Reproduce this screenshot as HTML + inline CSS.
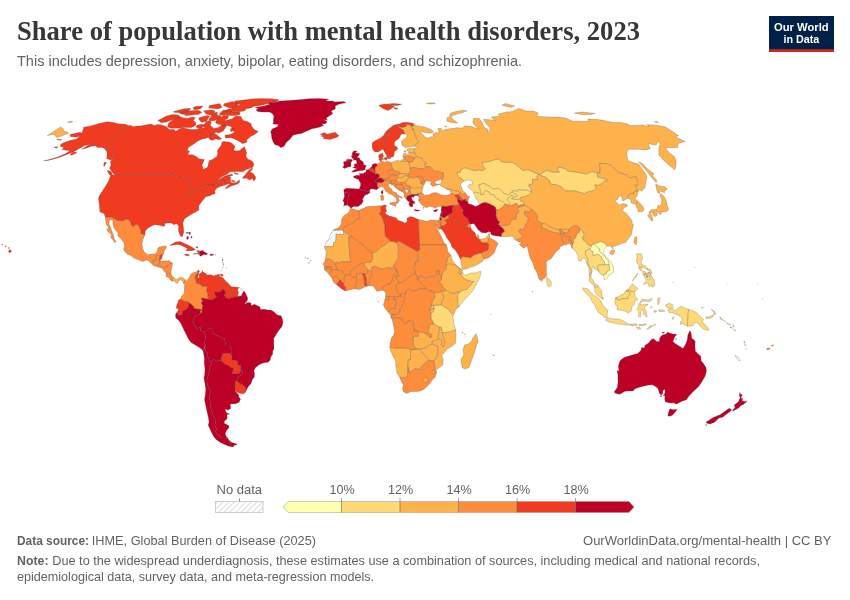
<!DOCTYPE html>
<html lang="en">
<head>
<meta charset="utf-8">
<title>Share of population with mental health disorders, 2023</title>
<style>
html,body{margin:0;padding:0;background:#fff;}
body{width:850px;height:600px;overflow:hidden;position:relative;font-family:"Liberation Sans",sans-serif;}
svg{position:absolute;left:0;top:0;display:block;}
.title{font-family:"Liberation Serif",serif;font-weight:bold;font-size:28px;fill:#373737;}
.sub{font-family:"Liberation Sans",sans-serif;font-size:15px;fill:#626262;}
.foot{font-family:"Liberation Sans",sans-serif;font-size:13px;fill:#626262;}
.leg{font-family:"Liberation Sans",sans-serif;font-size:12.6px;fill:#626262;}
.logo{font-family:"Liberation Sans",sans-serif;font-weight:bold;font-size:11.6px;fill:#fff;}
.b{font-weight:bold;}
.c g{stroke:#444;}
.c path{stroke-opacity:.55;stroke-width:.45;stroke-linejoin:round;}
</style>
</head>
<body>
<svg width="850" height="600" viewBox="0 0 850 600">
<defs>
<pattern id="nd" width="3" height="3" patternUnits="userSpaceOnUse" patternTransform="rotate(45)"><rect width="3" height="3" fill="#fff"/><rect width=".9" height="3" fill="#e2e2e2"/></pattern>
<pattern id="hatch" width="4" height="4" patternUnits="userSpaceOnUse" patternTransform="rotate(45)">
<rect width="4" height="4" fill="#fff"/><rect width="1.2" height="4" fill="#dedede"/>
</pattern>
</defs>
<rect width="850" height="600" fill="#fff"/>
<text class="title" x="17" y="39.6" textLength="623" lengthAdjust="spacingAndGlyphs">Share of population with mental health disorders, 2023</text>
<text class="sub" x="17" y="65.8" textLength="505" lengthAdjust="spacingAndGlyphs">This includes depression, anxiety, bipolar, eating disorders, and schizophrenia.</text>
<!-- logo -->
<rect x="769" y="16" width="65" height="36" fill="#002147"/>
<rect x="769" y="49.2" width="65" height="2.8" fill="#ce261e"/>
<text class="logo" x="801.3" y="30.6" text-anchor="middle" textLength="54.7" lengthAdjust="spacingAndGlyphs">Our World</text>
<text class="logo" x="801.4" y="42.6" text-anchor="middle" textLength="35.9" lengthAdjust="spacingAndGlyphs">in Data</text>
<!-- map -->
<g class="c">
<g fill="url(#nd)" stroke="#999">
<path d="M238.5 287.2L241 288.3L243.7 291.2L241.3 296.1L237.2 296.4L238.4 293L237.5 289.9Z"/>
<path d="M333.5 230.1L343.6 230.1L343.6 234.4L336.1 234.4L335.9 241L333.7 242.3L333.6 246.6L324.6 246.6L326.2 242.3L329.3 238.3L330.5 233.9Z"/>
<path d="M735 355L737.9 357L740.3 360.7L739 360.7L736.1 357.8Z"/>
</g>
<g fill="#ffffb2">
<path d="M589.9 249.1L591.7 245.7L593 243.8L593.9 243.8L595.7 245.7L598.3 247.8L600.1 249.1L599.3 251.2L602.2 253.5L606.1 258.2L608.5 260.8L609 263.2L609 264.5L605.6 264.8L604.4 264.8L604.3 261.6L602.1 259.5L601.5 256.9L598 254.3L595.3 254.8L593 255.9L592.8 251.4L591.1 251.2Z"/>
<path d="M593.9 243.8L596.7 243L600.5 241.5L603.8 242.5L607.3 246.1L604.8 248.3L603.2 252.7L605.5 256.1L608.5 259.3L611.4 261.9L613.4 267.4L613.7 271.8L610 274.9L608.2 275.2L607.9 277.6L605.1 279.9L604.2 279.7L604.2 276.3L603 275.2L606.2 273.6L606.8 271.8L609.6 270.2L609 264.5L609 263.2L608.5 260.8L606.1 258.2L602.2 253.5L599.3 251.2L600.1 249.1L598.3 247.8L595.7 245.7Z"/>
<path d="M650.4 325.9L655.4 324.1L656 324.6L650.9 327.2Z"/>
</g>
<g fill="#fed976">
<path d="M455.8 329.9L453.5 323.3L454 320.2L452.7 318.1L453.4 314.7L450 311.6L449.8 310.2L441.5 305L433.4 305L434.1 308.4L433.4 311.3L430.8 313.9L431 318.1L433.7 323.8L438.7 327L441.2 327.2L442.4 332.5L443.3 332.7L450.3 331.9Z"/>
<path d="M462.2 272.3L465.3 275.2L470.9 273.1L475.5 272.9L480.3 271L480.7 271.5L480.4 274.9L479.8 277.6L477.7 281.5L473.7 289.3L469.2 295.1L464.6 299.3L461.2 303.7L459.1 306.8L457.7 304.8L457.7 302.4L457.6 295.1L459.7 292.1L459.9 291.7L463.3 289.9L466.8 289.3L473.5 281.5L471.2 281.5L466.6 279.9L463.1 277.8L461.1 274.7L461.5 273.7Z"/>
<path d="M463.6 181.3L461.1 178L459.4 177.8L457.8 176.2L457.2 172.2L460.3 172.4L460.2 170.7L463.6 167.9L466.5 167.9L471.5 169.7L474.2 170.7L479 169.7L482 170.7L485.3 168.9L482.8 165.9L482.3 162.4L489.5 161.4L494.5 159.7L499.4 158.9L501.2 161.7L505.9 162.2L511.8 162.2L515.3 163.9L522.4 170.2L528.2 169.7L533.8 172.2L539.1 174.5L536.9 176.2L537.7 179.6L532.5 179.3L532.8 183.7L528.5 185.2L531.3 189.3L531.7 192.2L527.5 190.3L521.5 190.1L518.2 189.6L517.4 191.4L512.3 190.6L512.1 191.9L511.5 192.7L508.9 194.5L506.6 194.7L503.1 192.9L501.2 190.1L498.4 188.3L492.5 188.8L489.7 186.5L483.9 183.4L478.9 184.9L481.4 194.5L480.1 194.5L478.4 192.7L475.5 192.2L473.7 193.2L473.3 191.4L470.7 189.6L467.5 186.5L468.9 186.2L469.1 184.4L472.7 184.2L471.5 180.3L467.3 180.1Z"/>
<path d="M481.4 194.5L478.9 184.9L483.9 183.4L489.7 186.5L492.5 188.8L498.4 188.3L501.2 190.1L503.1 192.9L506.6 194.7L508.9 194.5L511.5 192.7L512.8 192.2L515 194L517.7 195.8L515.5 197.3L513.1 197.3L512.1 195.3L508.9 197.3L506.8 199.2L509.9 202.5L509.2 205.1L506.3 204.6L503.8 202.3L499.9 200.6L495.8 197.9L494 195L490 194.2L489.2 192.2L485.9 190.6L483.8 192.2L483.5 194.5Z"/>
<path d="M479.2 204.9L479.4 204.8L482.3 203.1L485.8 202.5L490.7 204.4L495.2 207L495.9 209.3L498.5 210.1L499.9 208.5L502.7 207.5L504.4 204.6L506.3 204.6L503.8 202.3L499.9 200.6L495.8 197.9L494 195L490 194.2L489.2 192.2L485.9 190.6L483.8 192.2L483.5 194.5L481.4 194.5L480.1 194.5L478.4 192.7L475.5 192.2L473.7 193.2L474.9 195.5L475.9 198.4L477.7 199.7Z"/>
<path d="M531.7 192.2L527.5 190.3L521.5 190.1L518.2 189.6L517.4 191.4L512.3 190.6L512.1 191.9L512.8 192.2L515 194L517.7 195.8L515.5 197.3L513.1 197.3L511.2 198.9L514.6 199.4L520.3 199.4L520.4 197.6L524.4 196.8L528.2 195.3Z"/>
<path d="M506.8 199.2L508.9 197.3L512.1 195.3L513.1 197.3L511.2 198.9L514.6 199.4L520.3 199.4L521.2 201.5L523.6 201.8L524.3 204.9L521 204.6L517.8 206.5L516.7 203.3L514.1 204.1L512.7 205.1L509.8 205.7L509.2 205.1L509.9 202.5Z"/>
<path d="M546.7 277L549.1 279.1L551.4 282.8L551.1 285.7L548.8 286.8L547.4 285.9L546.8 282.8L546.9 279.9Z"/>
<path d="M572.1 248.3L572.3 244.9L573.7 242.3L573.1 239.7L575.7 237.8L576.4 234.4L579.9 231.5L579.8 228.4L582 230L584.3 234.7L582.4 237.3L583 239.7L586.1 241.7L587.7 244.6L591.7 245.7L589.9 249.1L588.6 249.6L585.7 250.9L585.2 254L588.2 259.5L588.2 261.1L587.5 262.7L590.3 267.9L591.6 271.5L590.1 275.2L589.7 276.3L589.1 272.3L589 268.4L586.7 263.7L585.7 259.5L583.6 257.7L580.9 261.1L578.3 260.6L578.2 256.4L576.3 252.2L574.2 250.1Z"/>
<path d="M589.7 276.3L590.1 275.2L591.6 271.5L590.3 267.9L587.5 262.7L588.2 261.1L588.2 259.5L585.2 254L585.7 250.9L588.6 249.6L589.9 249.1L591.1 251.2L592.8 251.4L593 255.9L595.3 254.8L598 254.3L601.5 256.9L602.1 259.5L604.3 261.6L604.4 264.8L602.8 264.8L598.7 265L597.8 266.8L597.7 268.4L599.2 271.8L597.4 270.2L594.4 269.2L594.1 267.1L592.1 267.4L592.2 271L591 275.2L591.2 278.1L593.2 280.2L594.3 283.6L597.4 285.1L598.3 286.2L596.1 287.5L593.9 285.4L592.7 284.4L589.3 281.5L589.2 278.9Z"/>
<path d="M599.2 271.8L597.7 268.4L597.8 266.8L598.7 265L602.8 264.8L604.4 264.8L605.6 264.8L609 264.5L609.6 270.2L606.8 271.8L606.2 273.6L603 275.2L601 274.7L599.8 273.1Z"/>
<path d="M593.9 285.4L596.1 287.5L598.3 286.2L601.5 290.6L601.7 295.1L603.6 298.7L601.8 298.7L596.8 294.8L595.1 291.9L594.3 287.8ZM616 297.2L616.3 297.4L619.9 295.9L620.1 295.3L623.8 294L625.7 290.6L626.2 290.4L627.2 291.7L628.8 291.2L628.9 289.3L629.3 288L631.9 284.4L633 284.1L634.3 285.9L637.9 288.3L635.5 291.2L634.3 291.5L630.4 291.2L629.6 294.6L628 296.6L627.6 298.7L625.1 298.7L622.1 298.7L620.5 299.8L618.2 300L616.1 299Z"/>
<path d="M582.7 287.8L587.8 288.8L589.8 291.4L593.8 295.3L596.2 296.6L600.9 300.8L602.7 305L604.3 307.1L607.7 310.2L607.3 313.6L606.9 317.6L604.2 317.6L603.5 315.7L599 312.9L596.2 308.9L594.6 304.8L591.9 301.6L590.9 298.2L587.3 294.6L583.3 290.1ZM605.4 320.2L607.4 317.8L612.6 318.9L618.6 319.1L622.4 320.4L626.7 322.8L626.3 325.1L618.5 324.1L612.9 322.8L608.1 321.7ZM616.1 299L618.2 300L620.5 299.8L622.1 298.7L625.1 298.7L627.6 298.7L628 296.6L629.6 294.6L630.4 291.2L634.3 291.5L635.1 294.6L635.4 296.4L637.8 299.8L635.3 300.3L634.4 302.4L634.3 304.5L632 306.3L631.2 310.2L630.7 311.8L627.4 313.1L627.2 311.6L623.8 310.8L620.8 310.2L617.4 310L617 306.6L615 303.7L614.7 301.4L616 297.2ZM642.2 299L648.2 300L652.1 298.2L650.3 301.4L643.6 301.1L640.6 301.9L640.3 304.8L643.1 304.8L647.7 304L647.7 305L644 307.1L646.2 311.3L646.8 313.4L645.6 314.9L643.3 314.4L643.4 311.6L642.1 309.5L640.8 311.6L640.6 316.8L638.5 316.8L638.8 311.6L637.2 309.5L638.5 305.8L639.7 302.4ZM688.5 309.2L687.4 326.2L683 323.6L680.7 324.4L680.2 321.7L682.6 320.2L681.2 316.8L675.6 313.9L671 312.3L669.4 312.9L667.7 310L671.2 308.4L668.2 308.2L665.5 306.1L666 304.5L669 303.4L672.4 304.5L673 308.9L675 311L677.7 308.4L681.2 306.3L685.1 308.2ZM627.8 323.6L629.3 324.1L628.1 325.4L626.8 324.4ZM630 324.1L631.6 324.1L631.1 325.7L629.9 325.4ZM631.9 324.4L634.7 323.6L637.2 324.1L636.6 325.4L632.2 325.9ZM639 324.4L642.7 324.6L646.2 323.8L645.6 324.9L641.4 325.7L638.9 325.4ZM636.7 327L639.5 327L640.7 328.8L638.8 329.3L636.6 328ZM646.8 329.3L649.4 326.5L650.4 325.9L650.9 327.2L648.5 329.1ZM657.5 303.2L658.3 297.7L660.2 298.5L658.6 301.1L659.8 301.6L658.4 304.5ZM658.4 310L661.9 309.7L664.9 311L663 311.8L658.9 311.3ZM653.8 310.8L656.6 310.8L656 312.3L654 312.1ZM672.4 317.6L673.6 317L673.2 319.7L672.3 318.9ZM650 306.8L652.3 307.1L650.4 307.6ZM645.8 315.5L647.2 314.9L646.8 316.8L645.9 317Z"/>
<path d="M636.7 253.7L637.3 258.6L636.3 259.7L637.1 263.4L638.6 264.4L639.2 266.3L641.9 267.1L644.8 268.2L647.9 270L648.1 269.9L647.5 268.2L644.7 265.5L641.9 265L641 261.1L642.6 258L641.1 253.7ZM643.8 284.6L646.4 283.1L648.4 283.4L649.1 286.7L651.5 285.1L652.1 287.2L654.8 285.6L654.2 280.1L651.6 276.3L649.9 278.6L646.8 279.4L643.5 284.4ZM632.6 281L635.8 277.5L637.9 273L637.7 273L637.5 272.9L637.3 272.8L637 274.1L632.2 280.7ZM647.5 269.5L649.4 271.6L649.9 273.4L652.1 273.4L650.6 269.4L647.6 269.4ZM648.1 272.2L649.7 276L651.2 276L650.3 272.9L648.2 272.2ZM643.8 274L644.6 277.1L646 279.2L646.1 279.2L647 276.3L646.2 273.2ZM642.6 271.1L643.1 275.3L645.4 274.6L646 272.1ZM646.3 274.8L647 277.9L647.4 277.9L648.2 272.6L647.9 272.5ZM638.4 267.1L640.1 270.5L642.1 270.3L641.3 267.1ZM647.5 276.1L649.3 277.9L649.4 277.8L649.5 275.6Z"/>
<path d="M540 174.2L542.7 172.7L546.4 170.2L553.4 172.2L559.4 172.2L557.6 169.7L558 166.9L565.4 168.6L567.3 170.9L577.5 172.2L586.6 174L591.6 171.4L597.3 172.7L597.5 177L602 178L607.7 179.8L608.2 180.6L603.9 181.3L601.8 183.7L598.4 185.4L594.6 184.9L596.2 188.3L593.8 190.9L588.9 191.6L584.6 193.7L574.5 190.9L565.2 190.9L561.1 186.7L556.5 184.9L550.8 184.2L549.2 180.1L546 177.5L541.1 175.7Z"/>
<path d="M688.5 309.2L691.9 310.5L696.4 312.6L699.3 315.5L701.9 318.1L703.6 319.7L702.1 321.7L704.2 323.6L706.5 326.2L708.9 329.3L708.3 330.4L703.2 329.1L700.1 325.7L696.5 322.5L694.1 323.3L692.7 325.9L687.4 326.2ZM705.4 317L708.9 316.8L712.4 315.5L714.4 313.4L713.5 316.3L709.9 318.6L706.4 318.6ZM711.1 309.2L714.5 311.3L715.9 314.2L715 314.2L712.7 310.8ZM719.7 316.8L722.1 318.6L722.2 320.2L720.5 319.1ZM701.5 307.6L703.3 307.6L702.8 308.2Z"/>
<path d="M723.6 319.9L725.6 321.5L724.7 321.5ZM726.3 323.3L730.8 324.4L729.4 324.6ZM730.1 326.7L732.7 328L730.7 328ZM732.9 324.4L734.2 327.2L733.3 326.7ZM733.7 329.3L735.9 330.6L734.3 330.4Z"/>
<path d="M744.1 340.8L745 342.9L744.1 343.2ZM744.8 344.2L745.8 345.5L744.9 345.8ZM746.1 348.4L746.6 348.9L745.9 349.2Z"/>
</g>
<g fill="#feb24c">
<path d="M172.1 281.2L173 277.3L176.6 279.4L180.2 277.3L183.6 278.1L185.1 279.7L183.6 283.3L182.3 280.7L179.4 279.7L177.8 283.3L175.3 282.3L174.2 280.7Z"/>
<path d="M404.9 133.9L407.3 135.5L406.3 137.4L403.2 139.7L401.3 141.6L402.1 145.1L404.4 147L405.5 147.7L409 147L414 146.3L416.7 144.2L419.1 141.3L416.4 138.8L416.1 136.9L414.8 134.6L414.6 131.7L412.4 129.6L414.1 129.6L411.3 127.8L411.5 126.6L409.2 124.3L406.2 124.8L406.1 126.3L402.6 127.4L398.2 126.6L397.4 126.6L399.3 127.8L403.4 130.3L404 132.8Z"/>
<path d="M390.6 162.4L394 161.4L397.8 160.2L400.8 161.2L407.2 161.2L408.7 162.4L410 165.4L409.6 166.9L409.8 168.4L411 170.2L408.8 174.5L408.4 174.5L405.3 173.7L402.9 174.2L400.8 173.4L398.4 171.4L395.4 171.2L392.9 169.7L392 167.1L391.2 164.6Z"/>
<path d="M397.2 175.7L397.8 175.2L400.8 173.4L402.9 174.2L405.3 173.7L408.4 174.5L407.8 176.2L404.5 176L401.2 177.8L397.9 177.3Z"/>
<path d="M406.7 149.4L408.4 148.7L411.1 148.5L414.9 148.7L414.1 150.4L414.8 152.8L411.9 152.8L410 152.3L408.7 152.6L408.9 151.4L406.9 150.6ZM404.1 150.9L406 150.9L405.8 152.1L404.1 151.8Z"/>
<path d="M402.9 155.3L403.8 153.5L405.6 153.1L407 154.8L409 154.3L408.7 152.6L410 152.3L411.9 152.8L414.8 152.8L416.8 156.7L414 157.9L410.7 156.5L404.9 156.2L403.2 157Z"/>
<path d="M408.7 162.4L409.7 162.2L412.9 161.4L414 159.2L414 157.9L416.8 156.7L422.3 158.2L422.5 160.2L426.8 163.4L424.5 164.4L425.8 166.9L423.7 168.6L417.5 168.4L412.4 167.4L409.8 168.4L409.6 166.9L410 165.4Z"/>
<path d="M409.5 177.3L413.7 178L416.9 176.5L417.7 177.3L420.5 180.3L421.2 183.7L424.2 184.2L422.7 188.3L419.2 187.3L416 188.5L410.7 188L409.7 186.2L407.3 185.4L404.7 182.1L406.5 181.3L408 178Z"/>
<path d="M409.7 186.2L410.7 188L416 188.5L419.2 187.3L422.7 188.3L422 192.7L418.7 193.5L416.3 194.5L411.4 194.5L410.1 191.9L410.1 189.6Z"/>
<path d="M396 180.2L396.7 179.8L397.9 177.3L401.2 177.8L404.5 176L407.8 176.2L409.5 177.3L408 178L406.5 181.3L404.7 182.1L401.7 182.6L399 182.5L396.4 181.1Z"/>
<path d="M414.4 125L418.2 125.9L423.5 126.7L431.1 129.4L433.6 131.7L432.3 133L428.9 133.2L422.5 132.1L419.8 131.7L424.1 135.8L424.6 137.1L428.7 138.3L430 136.9L434.4 136.7L432.7 134.2L435.6 132.6L439.2 133L437.9 128.5L440.9 128.3L442.9 131.2L444.8 129.6L452.7 128.3L454.5 128.5L455.9 127.8L462.8 128.1L464.2 126.1L470.1 126.1L474.5 127.8L479.1 128.5L474.9 125.6L472.9 122.4L473.5 118.3L479.2 118.5L482.2 122.4L483.9 126.7L488.5 130.1L487.6 132.8L490.1 131.2L489.7 127.8L485.2 122.4L483.7 119.2L488.2 119.8L493.4 120.2L495.5 120.9L491.3 117.1L499.6 116.2L498.3 114L505.7 112.2L512.4 111.4L515.3 110L518.5 108.6L522.1 109.4L525.6 111L533.2 111L538.2 113L536.5 116L542 116.7L550.4 117.1L558.3 117.1L565.2 118.1L573.2 121.3L578.1 121.3L583 121.3L587.9 121.3L588 119L598.5 119.6L607.5 121.3L612.6 122.6L620.5 122.4L627.9 124.1L629.8 125.4L638.5 125.6L642.2 124.8L649.3 126.7L646.8 124.5L656.1 125.2L665.6 127L678.8 135.8L676.3 136.5L675.5 137.1L685.2 141.6L678.4 143.2L677.5 147.5L669.5 147.7L665.1 148L669.4 152.8L674.5 156.7L675.9 160.2L676.1 164.1L675.7 167.1L674.9 169.7L670 165.9L663.1 159.7L658.7 154.8L658.8 151.4L659.1 146.8L660.2 143.9L658.2 141.6L656.2 145.1L648.1 143.7L650.2 148.7L646 149.9L637.8 149.2L628.5 149.2L626.7 153.1L627.6 160.2L632.7 162.6L638.7 163.9L641.6 168.4L644.6 172.2L646.9 176.5L646 181.1L645.1 187.5L642 190.9L638.9 189.8L637.8 191.9L637.3 190.1L634.9 185.4L638.1 184.7L636.1 176.5L629.7 178L626.7 175.2L618.9 172.7L610.4 165.1L604.1 163.4L599.2 163.9L600.2 167.6L599.9 173.4L597.3 172.7L591.6 171.4L586.6 174L577.5 172.2L567.3 170.9L565.4 168.6L558 166.9L557.6 169.7L559.4 172.2L553.4 172.2L546.4 170.2L542.7 172.7L540 174.2L539.1 174.5L533.8 172.2L528.2 169.7L522.4 170.2L515.3 163.9L511.8 162.2L505.9 162.2L501.2 161.7L499.4 158.9L494.5 159.7L489.5 161.4L482.3 162.4L482.8 165.9L485.3 168.9L482 170.7L479 169.7L474.2 170.7L471.5 169.7L466.5 167.9L463.6 167.9L460.2 170.7L460.3 172.4L457.2 172.2L457.8 176.2L459.4 177.8L461.1 178L463.6 181.3L461 183.4L460.4 185.4L461.4 187L462.5 190.1L465.4 193.1L463 194.7L460.8 192.9L457.2 190.9L454.9 191.1L451.9 189.6L446.6 189.1L441.9 186.5L439.4 184.8L439 184L440.6 183.7L441.5 182.1L441.5 180.6L443.3 179.3L441.1 179.6L443.7 177.3L443.4 173.2L438 171.4L434 171.2L430 166.4L425.8 166.9L424.5 164.4L426.8 163.4L422.5 160.2L422.3 158.2L416.8 156.7L414.8 152.8L414.1 150.4L414.9 148.7L414.8 148.2L418.4 147.7L415.3 146.3L414 146.3L416.7 144.2L419.1 141.3L416.4 138.8L416.1 136.9L414.8 134.6L414.6 131.7L412.4 129.6L414.1 129.6L411.3 127.8L411.5 126.6ZM400.8 161.2L401.6 159.7L403.8 158.9L406.8 159.7L407.2 161.2ZM446.7 120.9L447.4 117.5L451.3 116L452 118.5L457.6 123L451.8 122.8ZM449.4 115.4L451 113L456 111.4L462.7 110.2L466.9 110.8L463 112.6L457.1 114L453.4 115.6ZM501.9 105.2L505.3 103.5L514.8 106.1L510.6 107.4ZM574.4 113L582 112L595.2 113.4L590.7 114.4L581.6 114.6ZM654.6 121.7L656.4 121.3L658.5 122.6L656.6 122.6ZM638.4 161.4L642.9 164.1L647.1 168.4L654.1 174L652 175.2L656.8 180.3L656.2 182.4L652.4 178.5L648.6 173.4L643.1 167.1ZM444.3 126.3L446.8 126.3L446.3 127.2ZM426.3 103.5L430.2 102.8L435.3 103.1L434.4 103.8L429.5 104ZM60.4 127L63.1 128.5L64.2 131.2L67.7 132.3L68.5 133.2L65.4 134.6L58.4 137.1L57.2 137.4L55.3 136.2L55.5 134.8L51.5 134.6L48.7 135.3L47.2 135.8ZM69.6 121.3L72.5 121.5L72.3 122.2L67.5 122.6Z"/>
<path d="M324.6 246.6L333.6 246.6L333.7 242.3L335.9 241L336.1 234.4L343.6 234.4L343.6 231L352.1 237L348.4 237L349.4 248.8L350.2 259.3L350.9 259.8L350.4 261.9L341.8 261.9L338.1 262.9L336.3 261.9L335.1 263.7L332.2 260.3L329.9 259L325.8 259.3L325.3 260.3L325.9 255.3L326.2 251.4L324.7 248L324.4 248Z"/>
<path d="M390.1 241L396.8 242.3L399 249.1L398.2 250.1L398.3 258.2L393.9 264.8L394.1 266.6L391.6 268.1L387.1 267.6L383.6 268.9L379 268.4L375.6 266.3L372.2 267.1L371.3 271.8L369.4 270.2L368.5 271L368 269.5L365.1 267.1L363.7 263.4L366 262.4L371 262.1L372.6 258.5L372.5 252.5L376.2 251.7L380 248Z"/>
<path d="M389.9 347.5L394.9 347.9L405.1 347.9L411.7 349.5L416.3 348.4L420.4 348.4L418.8 349.5L416 349.5L410.8 350.2L410.5 359.9L408.2 359.9L408 367.2L407.6 376.7L403 378L401.7 377.4L399.7 377.2L397 373L395.7 365.1L395.7 361.2L393.4 356.8L390.7 351Z"/>
<path d="M408 367.2L408.2 359.9L410.5 359.9L410.8 350.2L416 349.5L418.8 349.5L420.4 348.9L422.5 353.4L425.8 356L429.2 360.4L426.2 362L423.9 364.1L421.2 367L420.2 369.6L414.7 368.5L412.3 371.2L409.5 372.7Z"/>
<path d="M420.4 348.9L425.9 347.6L428.7 345.5L432.5 343.2L432.4 344.2L438 346.1L438.2 348.2L437.6 351.6L437.9 354.2L436.3 358.1L433.7 361L429.2 360.4L425.8 356L422.5 353.4Z"/>
<path d="M413.4 336.4L418 336.4L417.9 330.9L419 332.2L421.1 331.7L425.4 333.3L429.4 337.4L431.3 337.4L431.4 334.3L428.2 333.3L428.8 327.2L429.5 324.4L433.7 323.8L438.7 327L439.5 330.6L437.9 338L439 339L432.1 341.6L432.5 343.2L428.7 345.5L425.9 347.6L420.4 348.9L416.3 348.4L413.2 344.8Z"/>
<path d="M438.7 327L441.2 327.2L442.4 332.5L442.6 335.1L444.9 340.8L444.7 344.2L443.2 347.1L441.3 344.8L441.9 340.3L439 339L437.9 338L439.5 330.6Z"/>
<path d="M455.8 329.9L450.3 331.9L443.3 332.7L442.4 332.5L442.6 335.1L444.9 340.8L444.7 344.2L443.2 347.1L441.3 344.8L441.9 340.3L439 339L432.1 341.6L432.5 343.2L432.4 344.2L438 346.1L438.2 348.2L437.6 351.6L437.9 354.2L436.3 358.1L433.7 361L434.8 366.5L434.8 370.1L434.8 372.5L436.6 372.6L436.1 370.1L438.2 368.3L442.7 365.1L443.2 360.4L441.9 355.2L444.8 352.1L447.2 348.9L452.4 345.8L455.8 342.9L455.9 340.3L455.9 335.1Z"/>
<path d="M476.1 333.8L477.5 337.7L478.2 342.7L476.7 344.2L475.8 348.2L473.7 354.7L470.9 362.5L468.9 367.5L465.1 369.1L462.3 367.8L461.3 363.3L460.9 359.4L463.7 354.7L463.1 349.5L464.6 345L468.7 343.7L471.6 341.1L472.9 338L474.9 335.1Z"/>
<path d="M453.4 314.7L450 311.6L449.8 310.2L441.5 305L441.5 301.9L442.7 299.5L443.8 297.4L441.4 291.4L445.8 290.4L448.1 290.9L450.7 293L454.2 293.2L457.6 291.9L459.7 292.1L457.6 295.1L457.7 302.4L457.7 304.8L459.1 306.8L455.8 309.5L454.4 312.9Z"/>
<path d="M433.4 305L441.5 305L441.5 301.9L442.7 299.5L443.8 297.4L441.4 291.4L439.1 292.5L434.5 292.7L434.1 293.2L435.3 296.6L432.1 301.1L431.3 306.1Z"/>
<path d="M446.3 264.8L449.7 263.4L452.2 264.2L456.4 265.5L460.2 269.7L459 272.3L459 273.6L461.5 273.7L461.1 274.7L463.1 277.8L466.6 279.9L471.2 281.5L473.5 281.5L466.8 289.3L463.3 289.9L459.9 291.7L459.7 292.1L457.6 291.9L454.2 293.2L450.7 293L448.1 290.9L445.8 290.4L443.7 288L441.3 284.1L439 281.5L441.5 280.2L441.4 277.6L441.8 274.7L443.3 271.5L445.8 269.2Z"/>
<path d="M450.9 255.3L452.5 260.6L454.5 263.2L458.1 267.1L461.8 269.2L460.2 269.7L456.4 265.5L452.2 264.2L449.7 263.4L446.3 264.8L446.5 263.2L447.3 257.7Z"/>
<path d="M460.2 269.7L461.8 269.2L462.6 271.3L461.5 272.1L462.2 272.3L461.5 273.7L459 273.6L459 272.3Z"/>
<path d="M460.7 259.5L461.3 258.7L461.9 256.6L466 256.9L468.7 257.3L470.2 258.1L474 254.8L481.2 252.7L484.1 258.9L482.3 261.6L475.2 265.8L471.8 266.8L466.2 269.1L462.7 269.3L462 267.6L461.1 263.7Z"/>
<path d="M479.1 238.9L481.7 242.5L487.6 243L488.6 239.1L489.7 237.3L489.6 235.5L488.6 234.4L485.6 238.3L482.3 239.1Z"/>
<path d="M477.2 237.7L479.1 238.1L478.7 234.9L477.8 234L476.9 235.7Z"/>
<path d="M446.6 189.1L451.9 189.6L454.9 191.1L457.2 190.9L460.8 192.9L458.1 194.5L455.1 195L453.4 194L450.6 194L450.8 192.7L449.8 190.6Z"/>
<path d="M501.4 236.5L501.5 233.6L504.5 231.3L503 228.4L498.1 224.4L501.8 225.5L505.2 225.5L510 224.2L509.8 221.6L512.9 219.5L515.7 219L516.4 216.1L516.1 213.8L518.1 213.2L518.9 210.9L517.4 208.3L518.2 207.2L522.9 206.2L524.6 205.1L527.1 206.5L532 209.6L528.7 211.9L524.3 211.7L524.6 214.5L526.8 216.6L528.9 217.9L527.4 221.1L527.9 221.6L525.8 224.2L525.1 226.6L523.4 229.5L520 229.2L518.6 231.3L521.9 235.2L522.9 237.8L518.3 238.9L516.7 240.4L515 239.9L513.6 237.6L512.3 236L507.9 236.5L503.4 236.5Z"/>
<path d="M541.3 227.1L542.5 223.4L544.9 223.2L549.9 226.8L554 228.4L556.9 229.3L559.6 229.5L560.3 233.4L555.1 232.9L549.1 230.8Z"/>
<path d="M561.7 231L563.2 228.7L567.4 229.5L568.5 229.7L568.8 232.2L564 232.6Z"/>
<path d="M532.3 291.2L532.8 291.2L532.6 292.2Z"/>
<path d="M602.2 298.6L603.1 298.6L602.7 299.3Z"/>
<path d="M637.8 191.9L637.3 190.1L634.9 185.4L638.1 184.7L636.1 176.5L629.7 178L626.7 175.2L618.9 172.7L610.4 165.1L604.1 163.4L599.2 163.9L600.2 167.6L599.9 173.4L597.3 172.7L597.5 177L602 178L607.7 179.8L608.2 180.6L603.9 181.3L601.8 183.7L598.4 185.4L594.6 184.9L596.2 188.3L593.8 190.9L588.9 191.6L584.6 193.7L574.5 190.9L565.2 190.9L561.1 186.7L556.5 184.9L550.8 184.2L549.2 180.1L546 177.5L541.1 175.7L540 174.2L539.1 174.5L536.9 176.2L537.7 179.6L532.5 179.3L532.8 183.7L528.5 185.2L531.3 189.3L531.7 192.2L528.2 195.3L524.4 196.8L520.4 197.6L520.3 199.4L521.2 201.5L523.6 201.8L524.3 204.9L524.6 205.1L527.1 206.5L532 209.6L535.2 212.5L537.6 216.9L536.6 220L538 221.3L542.5 223.4L544.9 223.2L549.9 226.8L554 228.4L556.9 229.3L559.6 229.5L561.1 229.2L561.7 231L563.2 228.7L567.4 229.5L568.5 229.7L571.1 227.4L574.1 225.8L576.7 225.5L579.8 228.4L582 230L584.3 234.7L582.4 237.3L583 239.7L586.1 241.7L587.7 244.6L591.7 245.7L593 243.8L593.9 243.8L596.7 243L600.5 241.5L603.8 242.5L607.3 246.1L610.8 246.2L613.3 249.3L612.7 246.7L615.9 245.7L619.7 244.4L621.2 243.6L625.9 242.3L628.5 238.6L631.3 234.9L632.4 229.2L633.4 224.2L631.4 222.9L632.4 221.3L629.8 217.7L625.7 212.7L622.5 210.9L623.7 208L627.6 205.9L626.8 204.6L622.9 203.6L619.6 204.9L616.4 202.5L614.8 200.5L617.2 199.7L619.5 195.8L622 196.6L622.3 200.5L623.5 200.7L627.7 198.1L627.7 197.6L630.5 193.2L633.7 194.2L633.2 192.7L635.5 191.6L635.8 190.3ZM609.9 252.2L611.6 250.1L614.6 250.1L614.2 253.2L612.4 254.8L610.2 254Z"/>
<path d="M636.1 236.3L637 237.3L636.9 242L636.1 245.1L634 242.3L634.5 238.1Z"/>
<path d="M627.7 197.6L630.5 193.2L633.7 194.2L633.2 192.7L635.5 191.6L635.8 190.3L637.8 191.9L637.6 195.3L634.8 198.6L638.2 201.5L635.6 203.6L632.7 203.8L631.1 202.8L630.6 199.2L628.1 198.4Z"/>
<path d="M635.6 203.6L638.2 201.5L642.4 205.7L644.2 209.6L643.1 211.2L640.9 211.7L638.4 211.9L637.6 209.1L636 205.9Z"/>
<path d="M662 194.2L665 197.9L666.7 202.3L667.3 205.9L668.7 209.1L667.4 210.9L665.3 211.7L661.8 211.9L661.7 212.7L660.4 214.8L657.4 211.9L653.4 212.7L649.4 213.5L648.8 212.2L651.2 209.8L657.3 209.3L657.9 204.9L659.7 206.2L661.6 203.6L661.7 199.2L660.1 196.3L659.8 194.7ZM657.8 192.7L656.5 189.3L655.6 183.9L659.9 186.2L665 186.7L667.4 189.3L664.7 190.3L664.6 192.7L660 191.1L659 191.9L660.4 193.5ZM647.6 215.6L649.5 213.8L652 215.6L653 220.3L651.5 221.1L649.5 218.2ZM652.7 213.8L657 213L657.1 215.3L655.1 216.6L653.2 215.3Z"/>
<path d="M-32.6 337.7L-31.5 337.7L-31.8 338.5ZM-30.7 338.5L-29.7 338.7L-30.3 339Z"/>
<path d="M-33.9 357.6L-33.2 357.6L-33.5 358.1Z"/>
<path d="M762.5 298.7L762.9 298.7L762.7 299.3Z"/>
<path d="M727.3 284.4L727.7 284.4L727.5 284.6Z"/>
<path d="M694.5 267.1L694.9 267.1L694.8 267.6Z"/>
<path d="M672.8 282.5L673.2 282.5L673 283.1Z"/>
<path d="M757.2 283.8L757.6 283.8L757.4 284.1Z"/>
</g>
<g fill="#fd8d3c">
<path d="M105.6 217.4L111 216.9L117.9 220.6L124.1 220.6L124.5 219.3L128.3 219.3L130.9 222.4L131.2 225L133.7 226.6L135.8 224.5L138 224.5L140.1 228.7L140.8 230.5L141 233.4L145 234.7L143.1 238.9L142 244.1L142.7 248.5L144.3 251.9L145.9 253.5L148 254.8L152 254L154.9 254L157 251.9L158 248L159.3 247L162.8 246.2L166.2 246.2L166.4 248L164.4 250.6L163.6 254L162.5 254.8L162.2 254L159.9 255.6L155.8 255.6L155.6 257.4L156.7 259.5L153.7 260.3L152.1 264.2L148.6 260.8L146.6 260L142.6 261.4L138.2 259.8L133.9 258L130.8 255.6L127.6 254.3L124.6 251.4L123.7 248.8L124.7 246.2L123.8 242.3L120.7 238.6L117.7 235.5L118.1 232.9L116.1 230.8L114 227.9L112.9 224L113 220.8L110.3 219.5L109.3 221.3L108.9 224L110.4 227.1L111.4 230.2L113.2 234.4L114 238.3L116 241.7L114.7 242.5L113 239.7L110.8 237.6L111.4 234.4L108.4 232.1L106.8 229.7L108.7 227.6L106.3 224.5L105.5 220Z"/>
<path d="M152.1 264.2L153.7 260.3L156.7 259.5L155.6 257.4L155.8 255.6L159.9 255.6L159.3 260.8L161.3 261.4L159 263.4L158.2 265L156.7 266.3L153.9 266.1Z"/>
<path d="M159 263.4L161.3 261.4L163.2 261.1L166.6 260.8L168.9 260.6L172.5 263.2L169.7 264L167.2 266.1L164.3 267.6L162.7 268.4L161.8 267.4L160.4 266.1L158.7 264.8Z"/>
<path d="M156.7 266.3L158.2 265L160.4 266.1L161.8 267.4L161.6 268L159.1 267.4Z"/>
<path d="M162.7 268.4L164.3 267.6L167.2 266.1L169.7 264L172.5 263.2L171.6 268.4L170.7 273.6L168.5 273.6L166.2 273.4L164.5 271.5L162.2 268.7Z"/>
<path d="M166.2 273.4L168.5 273.6L170.7 273.6L173 277.3L172.1 281.2L170.4 279.9L168.2 277.3L166 276.5Z"/>
<path d="M185.1 279.7L186.2 281.5L189.1 277.8L190.7 274.2L192.6 272.9L195.4 272.3L198.5 270L199.4 271.5L197.2 273.4L195.4 275.7L195.1 278.3L196.1 280.7L196.2 283.1L199.4 284.1L202.8 286.5L207.4 286.2L206.6 290.6L207.7 293.5L208.3 299.3L201.8 298L201.6 299.5L202.7 300.8L201.3 302.9L202.7 305.5L201.6 313.4L199.9 312.3L201.2 309.5L194.7 308.7L192.8 305.8L189.1 302.7L186.8 301.4L184 301.4L181 298.7L181.6 295.9L184.1 293.8L184.4 291.4L184.3 287.8L184.7 284.6L183.6 283.3Z"/>
<path d="M377.1 163.9L379.6 163.1L380.3 162.2L379.6 159.9L381.4 160.2L382.4 161.2L384.4 162.2L387.2 161.2L390.6 162.4L391.2 164.6L392 167.1L392.9 169.7L391.5 169.7L387.6 171.4L388.1 172.9L390.9 175.2L389.4 176.5L389.1 178L389.5 178.5L384.4 178.8L382.6 178.5L380.3 178L378.5 178.3L379.6 174.7L375.9 173.4L375.8 172.7L375.2 171.9L375 170.2L374.9 167.6L376.8 166.1Z"/>
<path d="M387.6 171.4L391.5 169.7L392.9 169.7L395.4 171.2L398.4 171.4L400.8 173.4L397.8 175.2L397.2 175.7L393.3 174.7L390.9 175.2L388.1 172.9Z"/>
<path d="M382.6 178.5L384.4 178.8L389.5 178.5L389.1 178L389.4 176.5L390.9 175.2L393.3 174.7L397.2 175.7L397.9 177.3L396.7 179.8L396 180.2L395.8 180.6L392.8 181.3L391.1 181.1L388.4 180.6L384.5 180.1L382.4 179.6Z"/>
<path d="M378.6 188L377.6 187L377.1 184.7L377.4 182.6L380.3 182.4L381.5 182.9L384.3 181.1L384.5 180.1L388.4 180.6L391.1 181.1L391.1 183.7L391.5 183.4L388.4 184.2L388.8 187L391.4 188.8L392.8 191.6L396.7 192.9L396.8 194.2L402.4 197.6L402.2 198.4L399.1 196.6L398.4 198.6L399.6 200.5L398.4 202L397.6 203.3L396.5 203.1L396.8 200.5L396.2 197.9L393.8 196.3L392.2 194.7L388.9 193.5L386.1 191.6L385 190.1L384.3 187.8L381.3 186.5ZM389.7 203.1L391.8 202.5L396.5 202.3L395.6 206.5L393.9 205.7L389.9 204.1ZM380.4 195.5L382.5 194.7L383.8 196.6L383.5 199.9L382 200.7L381 199.9L380.9 197.1Z"/>
<path d="M403.2 157L404.9 156.2L410.7 156.5L414 157.9L414 159.2L412.9 161.4L409.7 162.2L408.7 162.4L407.2 161.2L406.8 159.7L403.8 158.9Z"/>
<path d="M409.8 168.4L412.4 167.4L417.5 168.4L423.7 168.6L425.8 166.9L430 166.4L434 171.2L438 171.4L443.4 173.2L443.7 177.3L441.1 179.6L438.3 180.3L435.4 181.3L434.8 182.1L436.1 184L438.6 183.9L438.3 184.8L435.5 185.4L433 186.5L430.1 183.9L431.9 182.1L427.6 180.8L426 181.1L424.2 184.2L421.2 183.7L422.3 181.3L424.6 181.3L422.3 177.3L419.3 176.2L416.9 176.5L413.7 178L409.5 177.3L407.8 176.2L408.4 174.5L408.8 174.5L411 170.2Z"/>
<path d="M416.9 176.5L419.3 176.2L422.3 177.3L424.6 181.3L422.3 181.3L421.2 183.7L420.5 180.3L417.7 177.3Z"/>
<path d="M391.1 181.1L392.8 181.3L395.8 180.6L396 180.2L396.4 181.1L395.1 182.6L394.6 183.7L391.1 183.7Z"/>
<path d="M391.1 183.7L394.6 183.7L395.1 182.6L396.4 181.1L399 182.5L401.7 182.6L402.3 184.9L398.1 184.4L395.7 184.4L396.3 187L399.9 190.1L401.9 191.4L398.6 190.1L394.6 187L393 184.4L391.8 185.4Z"/>
<path d="M395.7 184.4L398.1 184.4L402.3 184.9L403.6 187L403.1 188.8L402 190.9L401.9 191.4L399.9 190.1L396.3 187Z"/>
<path d="M402.3 184.9L401.7 182.6L404.7 182.1L407.3 185.4L409.7 186.2L410.1 189.6L410.1 191.9L408.4 192L408.3 190.3L406.1 189.6L405.3 189.6L403.1 188.8L403.6 187Z"/>
<path d="M401.9 191.4L402 190.9L403.1 188.8L405.3 189.6L405.2 191.1L403.9 192.9Z"/>
<path d="M403.9 192.9L405.2 191.1L406.4 192.9L406.3 194.5L407.5 196L406.1 198.6L404 196.8L404.2 194.5Z"/>
<path d="M406.4 192.9L408.4 192L410.1 191.9L411.4 194.5L409.2 195.5L407.5 196L406.3 194.5Z"/>
<path d="M418.1 195.5L418.7 193.5L422 192.7L424.3 194.7L421.3 195.5L418.7 197.3ZM418.9 199.2L419.7 196.8L424.8 195.3L428.6 195L433.1 192.7L436.7 192.7L440.2 194.5L444.6 195.5L447.7 195.3L450.6 194L453.4 194L455.1 195L456 197.6L458.5 198.6L457.2 199.7L458.6 203.1L459.6 205.1L454.7 205.1L451 205.4L446.7 206.5L442.3 206.2L441.5 208.5L440.8 206.2L437.6 206.5L435.8 208L432.2 207L429.1 206.2L427.1 207.8L424 206.5L422.1 205.1L419.4 202.3Z"/>
<path d="M350.2 208.8L351.5 208.5L356.5 210.1L358.2 210.6L359.3 212.2L359.3 215.3L360.4 218.2L356.4 219.5L355 221.6L351.5 224L348.6 225L343.7 227.4L343.6 230.1L333.5 230.1L334.2 229.3L337.4 228.4L340.3 225.5L341.5 222.9L341.4 220.3L342.6 217.4L344.4 215.3L348.1 213.2L349.5 210.6Z"/>
<path d="M358.2 210.6L363 208.5L366.2 207L369.5 206.2L373.8 206.2L379.2 205.7L381.6 205.9L380.7 207.2L381.1 210.9L379.4 213.5L381 215.6L382.8 218.5L384 223.4L385 226.6L384.9 231.8L385.5 236.3L388.9 238.9L390.1 241L380 248L376.2 251.7L372.5 252.5L370.5 252.7L370.3 250.6L367.1 249.3L365.7 247.2L352.1 237L343.6 231L343.7 227.4L348.6 225L351.5 224L355 221.6L356.4 219.5L360.4 218.2L359.3 215.3L359.3 212.2Z"/>
<path d="M418.5 219.6L422.6 220.3L427.1 221.6L430.3 220L433.6 220.3L438.5 220.6L440.5 225.3L439.7 229.2L439.3 229.8L437.7 228.4L435.3 224.2L436.5 227.9L438.6 231.3L442.9 239.7L443.5 242L446.4 244.9L419.5 244.9L418.6 226.1Z"/>
<path d="M419.5 244.9L446.4 244.9L447.2 247.5L447.7 251.4L450.9 255.3L447.3 257.7L446.5 263.2L446.3 264.8L445.8 269.2L443.3 271.5L441.8 274.7L441.4 277.6L440.9 275.7L439 274.4L439.2 270.5L436.7 271L437.4 273.4L434.7 276.8L429.7 276.3L427.4 277.8L423.9 277.6L420.5 275.5L418.2 279.7L417.1 279.7L417 276.3L415.6 273.9L414.6 269.5L413.4 268.4L414.5 265.8L415.5 261.6L417.8 261.4L417.5 251.4L417.4 250.1L419.7 250.1Z"/>
<path d="M418.2 279.7L420.5 275.5L423.9 277.6L427.4 277.8L429.7 276.3L434.7 276.8L437.4 273.4L436.7 271L439.2 270.5L439 274.4L440.9 275.7L441.4 277.6L441.5 280.2L439 281.5L441.3 284.1L443.7 288L445.8 290.4L441.4 291.4L439.1 292.5L434.5 292.7L434.1 293.2L432.2 290.9L428.5 291.2L426.2 289.1L422.9 285.4L420.6 282.8Z"/>
<path d="M396.8 242.3L399.1 241.1L417.5 251.4L417.8 261.4L415.5 261.6L414.5 265.8L413.4 268.4L414.6 269.5L415.6 273.9L412.9 274.7L406.7 278.9L402.2 282.5L398.7 282.8L397.5 279.9L395.2 276.3L398.9 276.3L397.4 272.3L396.5 269.2L395.1 268.4L394.1 266.6L393.9 264.8L398.3 258.2L398.2 250.1L399 249.1Z"/>
<path d="M352.1 237L365.7 247.2L367.1 249.3L370.3 250.6L370.5 252.7L372.5 252.5L372.6 258.5L371 262.1L366 262.4L363.7 263.4L361.4 263.2L358.4 265.3L355.4 267.6L352.9 269.2L350.8 271.5L350.4 275.2L348.8 274.9L344.8 275.7L343.9 273.6L342.8 272.1L341.7 270L338.4 271L336.9 270L336.9 268.7L335.1 263.7L336.3 261.9L338.1 262.9L341.8 261.9L350.4 261.9L350.9 259.8L350.2 259.3L349.4 248.8L348.4 237Z"/>
<path d="M325.3 260.3L325.8 259.3L329.9 259L332.2 260.3L335.1 263.7L336.9 268.7L336.9 270L331.6 269.5L327.5 269.2L324.7 270L324.5 268.1L324.5 266.8L323 264L324.6 261.9Z"/>
<path d="M324.7 270L327.5 269.2L331.6 269.5L331.6 271.8L328.5 273.6L326.3 271.5Z"/>
<path d="M328.5 273.6L331.6 271.8L331.6 269.5L336.9 270L338.4 271L341.7 270L342.8 272.1L343.9 273.6L344.8 275.7L344.1 278.9L345.3 280.4L343.4 282.5L341.3 282.8L341.4 280.4L339.3 280.2L338.6 278.1L337.3 276.3L334.3 276.5L332.4 278.9L330.1 275.7Z"/>
<path d="M332.4 278.9L334.3 276.5L337.3 276.3L338.6 278.1L339.3 280.2L338.6 282L336.5 284.4L334.2 283.1L332.6 280.4Z"/>
<path d="M345.5 290.9L345.7 287.2L343.9 285.7L343.4 282.5L345.3 280.4L344.1 278.9L344.8 275.7L348.8 274.9L350.4 275.2L352.2 277L356.6 277.3L356.8 281.5L355.6 285.4L356.5 289.1L353.8 288.8L349.2 289.9Z"/>
<path d="M350.4 275.2L350.8 271.5L352.9 269.2L355.4 267.6L358.4 265.3L361.4 263.2L363.7 263.4L365.1 267.1L368 269.5L368.5 271L368 271.8L365.1 273.6L362.5 273.4L356.6 273.6L356.6 277.3L352.2 277Z"/>
<path d="M356.5 289.1L355.6 285.4L356.8 281.5L356.6 277.3L356.6 273.6L362.5 273.4L363 274.9L363.9 277.6L364.4 281L364.4 284.6L365.8 286.5L363 287.8L359.5 289.6Z"/>
<path d="M367.1 286.1L366.7 284.1L366.2 278.1L364.8 275.5L365.1 273.6L368 271.8L368.5 271L369.4 270.2L371.3 271.8L371.7 274.9L369.4 278.9L369.3 285.8Z"/>
<path d="M369.3 285.8L369.4 278.9L371.7 274.9L371.3 271.8L372.2 267.1L375.6 266.3L379 268.4L383.6 268.9L387.1 267.6L391.6 268.1L394.1 266.6L395.1 268.4L395.6 270L396.5 272.3L393.6 276.3L392.5 279.7L390.2 284.1L387.2 284.1L385.6 285.7L383.3 287.2L382.6 290.1L379.1 290.9L376.8 291.2L374.5 287.8L373.1 285.9Z"/>
<path d="M382.6 290.1L383.3 287.2L385.6 285.7L387.2 284.1L390.2 284.1L392.5 279.7L393.6 276.3L396.5 272.3L395.6 270L395.1 268.4L396.5 269.2L397.4 272.3L398.9 276.3L395.2 276.3L397.5 279.9L398.7 282.8L396.4 286.2L396.7 289.3L397.6 291.9L399.9 294.6L400.4 296.6L393.7 296.6L389.1 296.6L385.6 296.4L385.8 293.8L385.2 292.2L383.5 290.6Z"/>
<path d="M384.9 299.8L389.1 299.8L389.1 296.6L385.6 296.4Z"/>
<path d="M384.9 299.8L389.1 299.8L389.1 296.6L393.7 296.6L393.5 299L396 299L396.5 303.7L395.1 305.8L396.2 307.4L395.5 308.7L391.9 308.4L390 309.7L388.6 312.6L385.2 308.7L383.3 304.5L384.5 301.4Z"/>
<path d="M388.6 312.6L390 309.7L391.9 308.4L395.5 308.7L396.2 307.4L395.1 305.8L396.5 303.7L396 299L393.5 299L393.7 296.6L400.4 296.6L401.3 293.2L405.9 293.2L404.8 296.4L404.1 301.6L403.6 304L400.4 308.2L399.7 312.6L398.3 313.6L396.2 315.2L393.9 315.2L393 314.7L392.5 313.9L390.7 315.5Z"/>
<path d="M398.7 282.8L402.2 282.5L406.7 278.9L412.9 274.7L415.6 273.9L417 276.3L417.1 279.7L418.2 279.7L420.6 282.8L422.9 285.4L426.2 289.1L421.8 288.8L418.4 289.3L414.9 291.4L410.3 290.6L408 289.1L405.9 290.9L405.9 293.2L401.3 293.2L400.4 296.6L399.9 294.6L397.6 291.9L396.7 289.3L396.4 286.2Z"/>
<path d="M391.1 317.6L391.8 315.7L393 314.7L393.9 315.2L396.2 315.2L398.3 313.6L399.7 312.6L400.4 308.2L403.6 304L404.1 301.6L404.8 296.4L405.9 293.2L405.9 290.9L408 289.1L410.3 290.6L414.9 291.4L418.4 289.3L421.8 288.8L426.2 289.1L428.5 291.2L432.2 290.9L434.1 293.2L435.3 296.6L432.1 301.1L431.3 306.1L429.9 309.5L430.4 311L430.8 313.9L431 318.1L433.7 323.8L429.5 324.4L428.8 327.2L428.2 333.3L431.4 334.3L431.3 337.4L429.4 337.4L425.4 333.3L421.1 331.7L419 332.2L417.9 330.9L414.2 331.2L414 328.3L413.2 323.8L413.4 321.5L410.2 321L407.9 320.7L406.7 323.3L403.5 323.6L401.3 317.8L393 317.8L391.4 318.2Z"/>
<path d="M391.4 318.2L393 317.8L401.3 317.8L403.5 323.6L406.7 323.3L407.9 320.7L410.2 321L413.4 321.5L413.2 323.8L414 328.3L414.2 331.2L417.9 330.9L418 336.4L413.4 336.4L413.2 344.8L416.3 348.4L411.7 349.5L405.1 347.9L394.9 347.9L389.9 347.5L390 343.7L391.6 337.4L393.7 335.1L394.7 331.2L393.4 325.4L392.5 320.7ZM391.1 317.6L390.7 315.5L392.5 313.9L393 314.7L391.8 315.7Z"/>
<path d="M399.7 377.2L401.7 377.4L403 378L407.6 376.7L408 367.2L409.5 372.7L412.3 371.2L414.7 368.5L420.2 369.6L421.2 367L423.9 364.1L426.2 362L429.2 360.4L433.7 361L434.8 366.5L434.8 370.1L434.8 372.5L436.6 372.6L435.2 376.9L431.8 380.6L429.2 384.2L425.4 387.9L422.1 390.3L419.2 391.3L414.3 391.6L411.1 391.6L406.6 393.4L404 392.1L403.2 391L402.5 388.2L403.4 385L401.1 380.8Z"/>
<path d="M378 301.4L378.7 301.6L378.2 302.4Z"/>
<path d="M493.2 354.7L494.1 355.2L493.3 356Z"/>
<path d="M490.8 314.4L491.3 314.4L491 314.9Z"/>
<path d="M440.5 225.3L438.5 220.6L439.1 219.8L440 215.9L441 215.5L441.2 216.9L441.2 217.7L441.3 220L441.2 221.1L440.7 225Z"/>
<path d="M440.6 225.5L441.2 221.1L441.2 217.7L441.2 216.9L441.9 216.9L444 217.9L448 215.1L449.3 218.2L444.6 220L447.1 222.7L446.1 224L443.2 226.1Z"/>
<path d="M466.6 226.3L468.7 223.7L470.5 225.3L470.8 227.8L469.2 227.9Z"/>
<path d="M484.1 258.9L481.2 252.7L487.8 250.1L488.9 244.9L487.6 243L488.6 239.1L489.7 237.3L490.3 238.3L495.3 240.7L498.1 243.6L495.6 249.1L494.3 252.7L491.6 255.3L488.4 258ZM488.7 234.2L489.6 233.6L489.5 235.2Z"/>
<path d="M460.8 192.9L463 194.7L465.4 193.1L468 196.3L469.6 196.8L468.5 199.4L467.9 202L465.7 200.7L466.1 199.4L463.4 199.7L462.5 200.7L462.2 198.9L460.3 197.1L458.6 194.7L458.1 194.5ZM458.5 198.6L460.7 198.9L461.7 200.7L460.3 200.5Z"/>
<path d="M498.1 224.4L499.7 221.9L497.4 220L495.9 215.6L496 211.9L495.9 209.3L498.5 210.1L499.9 208.5L502.7 207.5L504.4 204.6L506.3 204.6L509.2 205.1L509.8 205.7L512.7 205.1L514.1 204.1L516.7 203.3L517.8 206.5L521 204.6L524.3 204.9L524.6 205.1L522.9 206.2L518.2 207.2L517.4 208.3L518.9 210.9L518.1 213.2L516.1 213.8L516.4 216.1L515.7 219L512.9 219.5L509.8 221.6L510 224.2L505.2 225.5L501.8 225.5Z"/>
<path d="M516.7 240.4L518.3 238.9L522.9 237.8L521.9 235.2L518.6 231.3L520 229.2L523.4 229.5L525.1 226.6L525.8 224.2L527.9 221.6L527.4 221.1L528.9 217.9L526.8 216.6L524.6 214.5L524.3 211.7L528.7 211.9L532 209.6L535.2 212.5L537.6 216.9L536.6 220L538 221.3L542.5 223.4L541.3 227.1L549.1 230.8L555.1 232.9L560.3 233.4L559.6 229.5L561.1 229.2L561.7 231L564 232.6L568.8 232.2L568.5 229.7L571.1 227.4L574.1 225.8L576.7 225.5L579.8 228.4L579.9 231.5L576.4 234.4L575.7 237.8L573.1 239.7L573.7 242.3L572.3 244.9L571 240.4L568.5 240.4L568.6 239.4L570.6 237L564.7 236.3L564.3 234.4L561 233.1L560.6 234.9L562.7 236.5L561.2 238.3L563.3 241.7L564.3 244.6L562.5 245.7L559.9 246.4L559.9 248.3L556 251.7L553.1 255.9L550.7 259L548.5 259.8L546.2 261.9L546.5 267.1L546.3 271L546.6 275.5L544.7 278.1L542.9 279.1L541.5 281.2L539 278.9L536.8 272.3L534.5 268.4L533.2 263.7L530.7 259.3L528.7 252.7L527.4 247.5L526.8 244.4L526.2 246.7L523.4 248.3L519.4 244.4L521.7 242.5L518.4 241.7Z"/>
<path d="M564.3 244.6L563.3 241.7L561.2 238.3L562.7 236.5L560.6 234.9L561 233.1L564.3 234.4L564.7 236.3L570.6 237L568.6 239.4L568.5 240.4L571 240.4L572.3 244.9L572.1 248.3L570.4 244.1L567.6 243.6L566.5 245.1Z"/>
<path d="M766.9 348.2L769.9 347.9L769.4 349.7L766.7 349.7ZM770.9 345.5L773.9 344.8L772.3 346.3Z"/>
</g>
<g fill="#f03b20">
<path d="M127.9 125.4L103.7 146.8L106.6 147.5L106.8 150.2L112.6 148L113.3 151.4L112.3 155.7L114.4 157.2L112.1 159.7L110.3 161.4L111.1 164.6L109.6 168.4L112.4 172.2L114.5 174.7L171 174.7L171.5 173.7L171.7 175.5L176.5 176.5L181 177.3L183.8 176.5L189.5 180.1L189.7 181.1L191.2 182.4L192.5 184.2L190.4 190.1L188.1 192.4L189 193.5L197.4 190.6L197.5 189.1L202.7 188.5L204.3 187L207.8 184.9L215 184.9L216.8 183.9L219.6 180.6L221.9 178.7L223.7 178.9L224.4 179.6L223.3 183.1L223.7 184.4L224.2 185.2L226.6 184.4L229.4 183.4L229.7 184.2L225.1 188.3L226.2 188.8L231.3 186L237 184.2L239.6 182.4L239.3 179.8L236.4 182.6L233.2 182.9L230.5 181.9L230.4 179.6L230.9 177.3L228.4 177L233 175.2L232 174.2L227.7 175L224.2 176.2L220.1 179L217.2 180.3L220.6 177.8L223.4 175.7L227.4 174L230.1 171.7L237 171.4L242.9 171.7L246.7 169.2L249.9 168.6L253.1 166.9L253.9 163.9L252 160.9L247.6 158.9L245.9 156L246.7 152.8L245.7 149.9L244.4 146.8L241.6 148.7L239.9 150.4L235.8 151.1L233.6 149.9L235.2 146.3L233.4 144.9L232.4 143.5L229.5 142L223.5 141.6L222.1 142L221.1 145.6L217.5 150.2L217.7 153.5L216.9 156.5L212.8 159.2L209.2 160.7L208.2 164.6L207.7 167.1L205.4 168.4L203.1 168.9L202.1 164.9L204.4 159.4L199.5 158.9L195.4 156L192.4 154.8L187.7 154.8L189.6 151.1L187.3 150.4L188.3 147.5L193.9 143.9L197.9 140.9L201.7 139.2L207 138.1L210.8 135.1L213.9 133.2L216.2 132.3L218.4 133L223 131.2L225.5 127.8L226.4 125.2L221.6 125L219.1 127.2L213.9 128.5L211.9 126.7L210.2 125.6L211.3 122.4L210 120.2L206.2 121.7L203.6 125.6L204.3 127.8L200.3 128.5L196.2 129.4L190.9 129.6L188.1 129L183.8 128.1L180 128.5L175.8 131.2L174.1 129.4L169.1 129.4L168.1 128.5L166.5 126.7L161.7 125L157.2 124.5L154.3 125.6L151.1 124.1L145.1 125L140.7 125.9L137.1 126.1L133 126.7L131.2 125.4ZM242.2 178.3L245.1 174.7L248.7 170.4L252.2 168.1L252.8 168.9L249.8 171.9L251.1 172.4L253.4 173.4L254.7 175.7L255.8 177L255.2 179.8L253.1 180.8L252.9 178.5L249.4 180.1L246.9 178.3ZM107.3 170.2L111 171.4L112 173.4L113.1 175.7L112.2 176.5L110 175.2L108.1 172.7ZM104.6 161.9L106.5 162.4L104.2 166.6L103.5 165.1ZM233.6 172.4L238.2 173.7L238.4 174.5L235.1 174ZM231.6 180.1L234.8 181.1L235.8 181.3L233.5 182.1L231.3 181.1ZM236.2 116.1L233.8 117.2L232.4 118.7L229.2 119.6L224.9 120.7L225 119.8L227.9 118.5L228.6 115.9L223.5 116.1L220 117.2L216.7 119.8L215.5 122.6L217.2 124.1L220.6 124.5L222.2 125.1L226.5 125.6L229.4 126L231.1 126.8L232.5 129L235 130.3L233.7 132.4L230.9 134.2L224.9 135.3L225.5 138L231.4 137.7L235.4 139.5L239.6 141.6L242.5 143.7L247.1 142L246.6 140.1L251 136.3L254.4 134.7L258.3 131.6L254.1 129.6L251.5 125.9L251 123.5L247.1 121.4L243.1 120.4L241.7 118.2L241.1 116.5ZM230.6 128.6L230.5 131.5L234.3 131L234.9 128.6ZM210.3 134.8L208.3 137.6L209.7 139.3L212.1 140.4L215.8 138.7L218.7 139.8L221.7 138.7L218.8 136.4L216.4 134.6L214.3 133.2ZM168.8 123.7L168.6 123.7L167.4 127.1L171.4 128.2L177.4 128.2L184.8 127.6L191.7 127.6L195.6 125.4L195.9 122.5L193.3 120.6L195.3 117.7L192.4 117.1L188 118.2L183.6 117.9L180.1 116.7L171 121L168.2 123.4L168.3 123.7ZM159.4 119.7L157.8 120.4L161.4 122.8L166.6 122.1L170.2 120.4L180.8 117.6L178.5 115L172.7 114.4L166.4 116.1ZM199.6 117.6L198.5 118.8L200.2 121.1L202 122.3L206.7 121.2L207.8 119.1L209.8 116L206.6 115.6ZM211.9 115.4L210.7 116.7L208.8 119.2L210.1 120.8L214.1 120.8L219.2 118.6L221.1 115.8L216.7 115ZM197.4 125.1L195.9 126.8L198.1 128.4L201.9 128L205 125.1L201.8 124.2ZM223.1 110.2L218.9 114.2L222.2 115.4L228.3 115.6L235.5 115.6L240.1 114.4L239.6 112L232.3 112L227.7 109.8ZM203.6 110.7L205.4 113.2L207.3 114.6L212.7 115.6L217.5 114.5L217.1 112.1L213.7 112.7L215.2 111.1L211.6 110ZM184.4 110.8L179.9 113.4L180 113.8L184.6 114.6L185.5 115.8L193.4 114.8L198.4 114.6L202 112.4L198.6 110.2L190.7 110.8ZM173.7 112.3L177.6 112.6L181.4 113.2L188 111.3L190.7 108.7L190.5 108.3L184.3 108.8L173.7 111.5ZM224.8 111.3L224.9 111.8L239.8 111.8L244.9 110.7L246 108.7L251 108L254.3 106.2L260.7 105.5L268.2 103.5L276.2 101.9L278.9 100.1L278.8 99.7L271.5 98.8L260.8 98.6L250.8 98.9L244.1 99.9L234.5 100.9L235.7 103.6L239.6 104.3L239.7 105.1L235.5 105.9L231.1 107.3L232 108.4L228.3 109ZM224.1 103.8L223.3 105.5L226.4 106.7L229.3 108L235.6 106.7L238.5 104.1L234.9 102.6L232.4 101.5ZM209.3 105.6L208.8 107.9L213.1 108.6L218 109L222.2 107.2L219.8 103.6ZM195.1 106.5L193.1 107.8L194.2 109.9L200.6 108.8L202.9 106.3L202.7 106Z"/>
<path d="M114.5 174.7L110.3 176.2L108.4 181.6L103.9 188.8L98.8 196.8L98.6 199.7L99.3 204.4L99.4 206.7L100 211.9L104 213.5L105.6 217.4L111 216.9L117.9 220.6L124.1 220.6L124.5 219.3L128.3 219.3L130.9 222.4L131.2 225L133.7 226.6L135.8 224.5L138 224.5L140.1 228.7L140.8 230.5L141 233.4L145 234.7L145.3 231L148 228.1L152.6 225.5L154.8 224.7L159.8 225.3L162.9 226.3L164.7 226.1L164.7 223.4L168.1 222.9L171.5 222.9L173.7 224.7L176.8 223.7L178.8 226.6L178.4 230L179.6 234.2L180.8 236.5L182.4 236.5L183.8 232.3L183.5 227.9L182.8 222.7L184.6 218.7L188.6 216.1L192.7 213.5L196.2 211.7L198.8 210.1L198.9 205.7L200.7 203.1L202.2 201L205.9 196.6L210.5 195.3L215.3 193.5L214.7 190.9L216.6 188.3L220.1 186.5L224.2 185.2L223.7 184.4L223.3 183.1L224.4 179.6L223.7 178.9L221.9 178.7L219.6 180.6L216.8 183.9L215 184.9L207.8 184.9L204.3 187L202.7 188.5L197.5 189.1L197.4 190.6L189 193.5L188.1 192.4L190.4 190.1L192.5 184.2L191.2 182.4L189.7 181.1L189.5 180.1L183.8 176.5L181 177.3L176.5 176.5L171.7 175.5L171.5 173.7L171 174.7ZM127.9 125.4L125.9 124.3L118.5 123.7L113.4 122.6L107.3 121.7L99 123.5L90.6 125.9L83.6 127.2L83.2 129.9L82.2 131.2L82.7 133L79.8 132.3L70.1 134.4L70.5 136.7L76.4 136.9L79.9 136.2L76.1 139.2L70.4 140.2L63.6 142.8L61.2 143.9L60.1 146.3L63.8 147.5L62 149.4L67.4 150.4L70.2 150.4L65.8 153.5L57 157.2L50.1 159.2L43.5 160.9L47.9 160.4L53 159.2L59.9 157.2L68.1 154L74.3 151.4L78 149.2L84.8 145.6L89.5 144.6L81.7 149.2L86.7 148L91.3 146.3L95.5 145.8L97.4 147.5L102 147.5L104.4 148.5L106.1 150.9L107 151.8L107.1 154.8L106.6 158.4L109.4 159.7L112.1 159.7L114.4 157.2L112.3 155.7L113.3 151.4L112.6 148L106.8 150.2L106.6 147.5L103.7 146.8ZM72.5 152.6L77 151.8L75.3 153.8L70.9 155.3L70.5 154ZM57 139.2L61.5 139.5L61 140.2L56.8 139.7ZM55 147L58.1 146.8L56.6 148L54.4 148ZM8.8 250.6L9.7 249.5L11.3 250.6L11.5 251.4L9.4 253L8.7 251.9ZM8.1 247.8L9.3 247.5L9.5 248.3L8.3 248.5ZM4.8 246.2L5.9 245.7L6.2 246.7L5.1 246.8ZM1.8 244.6L2.9 244.4L2.7 245.1L1.9 245.1ZM206 196.3L210.6 195L210.5 195.5L206.4 196.4Z"/>
<path d="M159.9 255.6L162.2 254L162.5 254.8L161.9 258L160 260.8L159.3 260.8Z"/>
<path d="M170.4 245.6L174.4 244.7L177.7 244.5L180.9 245.2L185.1 247.3L187.6 248.6L186.1 250.8L186.1 250.9L191.7 250.7L195.4 249.8L195.4 249.7L193.3 248L189 245.6L184.6 243.5L180.4 241.6L175.6 242L170.3 245.1Z"/>
<path d="M184.7 254.3L187.9 254L189.6 255.3L187.2 256L184.8 255.1Z"/>
<path d="M193.5 254.3L195.8 254L198.3 254L199.6 255.1L200.2 250.9L197.4 250.4L196.4 250.9L197.9 251.9L198.2 253.5L193.8 253.6Z"/>
<path d="M220.8 274.2L223.1 274.2L222.8 276L220.7 276Z"/>
<path d="M222.6 261.6L223 262.1L222.6 262.7ZM223.2 265.7L223.6 266.1L223.2 266.4ZM222.7 267.5L222.9 267.9L222.6 268.1ZM221.3 270.5L221.7 270.8L221.3 271ZM221.9 257.6L222.4 257.7L222.1 258Z"/>
<path d="M199.4 271.5L198.5 270L197.9 272.1L199 273.9L197.4 277.6L199.2 278.3L199.2 274.2L201.8 272.3L202.4 270.5L203.2 272.3L206.1 273.6L206.7 274.9L210.9 274.7L213.8 276L215.9 274.9L219.4 274.4L220.8 274.4L218.6 276.3L221.4 276.8L223.1 278.1L224.9 279.9L225.3 280.7L223.2 282.8L224.1 284.1L222 285.1L221.5 287L223 288.8L220.4 291.4L217.9 292.2L214.9 291.7L214.6 294.6L216.6 296.4L215 298.2L211.7 300L208.5 299.3L207.7 293.5L206.6 290.6L207.4 286.2L202.8 286.5L199.4 284.1L196.2 283.1L196.1 280.7L195.1 278.3L195.4 275.7L197.2 273.4Z"/>
<path d="M225.3 280.7L228.2 283.3L231.1 286.7L230.9 288.5L229.2 291.9L230.3 293.8L232.6 297.4L229.1 298.5L225.4 297.7L224.5 295.3L225.7 292.2L224.4 290.6L223 288.8L221.5 287L222 285.1L224.1 284.1L223.2 282.8Z"/>
<path d="M231.1 286.7L234.1 287L238.5 287.2L237.5 289.9L238.4 293L237.2 296.4L233.9 297.2L232.6 297.4L230.3 293.8L229.2 291.9L230.9 288.5Z"/>
<path d="M181 298.7L184 301.4L186.8 301.4L189.1 302.7L188.4 306.3L186.2 309.2L182.5 311.3L182.2 314.4L179.6 315.5L177.5 313.9L177.7 311.3L178.8 308.9L176.2 308.2L176.9 304.8L178.2 302.1L178.3 300.3Z"/>
<path d="M221.3 360.4L221.8 356L222.9 353.6L228.8 352.9L230.9 354.2L231.8 356.5L231.9 360.2L235.3 360.4L237.2 361L238.2 365.1L240.5 365.1L240.5 369.3L240.3 371.9L238.3 374L236.8 374L232 373.3L233.7 369.3L233.4 368.3L230.8 367.2L227.9 365.1L225.6 364.6Z"/>
<path d="M235.4 381.4L236.9 381.1L239.4 383.2L242.5 384.8L245.7 387.9L246.1 390.5L245.6 392.3L243.4 393.8L240.6 393.6L236.9 392.3L235.3 391L235.5 388.7L234.8 385.8Z"/>
<path d="M320.2 134.6L324.1 132.6L327.3 134.2L331.8 133L335.4 132.3L337.5 134.6L339.1 135.8L336.5 137.4L330 139.5L326.5 139L322.7 138.5L324.2 137.1L320.8 136L323.6 135.3Z"/>
<path d="M383.7 149.9L382.5 149.2L380.7 150.4L378 152.1L375.2 152.1L373.3 150.4L372.2 147.5L372.1 144.6L372.2 142.8L374.7 140.9L378.1 139.2L380.7 138.1L383.2 135.8L384.7 133.5L386.2 131.2L388.5 129L390.8 127.4L393.1 125.6L396.2 124.5L399.4 123.9L402.4 122.6L405.6 122.2L408.9 122.4L412.4 123.2L414.3 124.1L413 125.2L414.4 125L411.5 126.6L409.2 124.3L406.2 124.8L406.1 126.3L402.6 127.4L398.2 126.6L397.4 126.6L396.8 128.1L393.6 127.8L391.2 130.1L389.8 132.8L388.1 133.2L388.6 135.8L387.2 136.9L387.8 138.1L384.7 139.2L385 143.5L386.5 144.4L385.5 145.1L386.2 146.6L385 148L384.8 149.9ZM378.9 105.2L383.1 104.3L388.7 104L394.5 106.5L390.7 109L388 110.6L383.9 109L379.8 106.5ZM389.4 103.8L394.3 103.5L401.7 104.2L397.8 105.6L391.9 105.2ZM394.1 107.6L397.9 108.2L396.8 109.4L394.4 108.8Z"/>
<path d="M383.7 149.9L384.2 151.6L385.4 153.3L387.1 156.7L387.8 158.7L390.5 158.4L390.5 157.2L393.5 156.7L394.3 153.5L394.3 151.4L396.2 150.4L397.8 148.5L396.8 146.8L394.5 145.8L394.3 142.8L395.3 140.9L397.8 139.2L400 136.9L400.6 135.1L401.8 133.9L404.9 133.9L404 132.8L403.4 130.3L399.3 127.8L397.4 126.6L396.8 128.1L393.6 127.8L391.2 130.1L389.8 132.8L388.1 133.2L388.6 135.8L387.2 136.9L387.8 138.1L384.7 139.2L385 143.5L386.5 144.4L385.5 145.1L386.2 146.6L385 148L384.8 149.9Z"/>
<path d="M378.6 159.9L379.5 158.7L378.4 156L379.3 154.5L382.8 153.1L382.9 154.8L383.8 156.2L382.5 157.5L381.5 159.2L381.4 160.2ZM384.1 157.9L386.9 157L387.2 158.2L386.4 160.2L384.2 159.2ZM381.8 158.4L383.5 158.4L383.6 159.4L382.1 159.4Z"/>
<path d="M368.1 169.4L369.7 168.6L371.3 168.6L372.9 168.6L374.4 170.2L375 170.2L375.2 171.9L374.7 173.4L372.6 172.2L371.4 171.7L369.4 170.4Z"/>
<path d="M381.6 205.9L384.1 204.9L385.2 205.1L386.7 205.7L385.7 207.2L386 209.6L386.9 210.9L385.1 212.7L386.2 214.3L388.2 215.6L388.3 217.7L385.7 219.5L385.6 221.9L384 223.4L382.8 218.5L381 215.6L379.4 213.5L381.1 210.9L380.7 207.2Z"/>
<path d="M388.2 215.6L391.5 216.4L396.4 217.9L397.9 220.3L401.7 221.6L405.1 223.2L407.2 221.3L407 218.2L410.2 216.4L413.5 217.2L418.5 219.6L418.6 226.1L419.5 244.9L419.7 250.1L417.4 250.1L417.5 251.4L399.1 241.1L396.8 242.3L390.1 241L388.9 238.9L385.5 236.3L384.9 231.8L385 226.6L384 223.4L385.6 221.9L385.7 219.5L388.3 217.7Z"/>
<path d="M336.5 284.4L338.6 282L339.3 280.2L341.4 280.4L341.3 282.8L343.4 282.5L343.9 285.7L345.7 287.2L345.5 290.9L342.2 289.3L338.1 285.9Z"/>
<path d="M365.8 286.5L364.4 284.6L364.4 281L363.9 277.6L363 274.9L362.5 273.4L365.1 273.6L364.8 275.5L366.2 278.1L366.7 284.1L367.1 286.1Z"/>
<path d="M307.4 258.2L308.3 258L308 259ZM308.6 262.4L309.5 262.7L309 263.4ZM310.5 260L311.2 260L310.9 260.7ZM305.3 257.7L306 257.6L305.8 258.3Z"/>
<path d="M462.2 332.2L462.9 332.5L462.6 333.5ZM464.6 334L465.3 334.3L464.8 334.8Z"/>
<path d="M454.5 205.4L459.6 205.1L461.7 208.3L463.5 210.4L462.3 212.2L463.9 215.9L468 218.7L468.4 221.3L470.8 224.2L469.2 224L468.7 223.7L466.6 226.3L462.4 226.1L455.8 221.1L452 219L449.3 218.2L448 215.1L452.5 212.5L452.4 207Z"/>
<path d="M440.6 225.5L443.2 226.1L446.1 224L447.1 222.7L444.6 220L449.3 218.2L452 219L455.8 221.1L462.4 226.1L466.6 226.3L469.2 227.9L470.8 227.8L472 230.2L475.4 232.9L475.7 235.5L477.2 237.7L479.1 238.9L481.7 242.5L487.6 243L488.9 244.9L487.8 250.1L481.2 252.7L474 254.8L470.2 258.1L468.7 257.3L466 256.9L461.9 256.6L461.3 258.7L460.7 259.5L457.8 254L455.6 250.6L451.7 246.7L450.9 243.6L446.6 237.6L445.3 234.4L441.5 228.9L440.2 228.9L440.4 226.8Z"/>
<path d="M455.1 195L458.1 194.5L458.6 194.7L460.3 197.1L462.2 198.9L462.5 200.7L461.7 200.7L460.7 198.9L458.5 198.6L456 197.6Z"/>
</g>
<g fill="#bd0026">
<path d="M255.1 107.6L263.8 106.1L269.7 104.3L268.1 102.9L275.8 102.3L279.7 101L288.4 100.5L298.6 99.7L308.8 98.8L319.7 98.5L328.9 99.2L325.5 101L332.5 101L335 101.9L343.5 101.4L346.1 102.6L338.6 104.3L335.3 106.1L335.3 109L331.1 111L332.8 113.6L330 115.4L326.2 118.1L327.4 120.2L323.5 119.6L327.1 121.7L325.8 123.7L321.6 124.1L323.8 125.4L318.3 127.6L312.1 128.7L306.3 131.2L301.4 133.5L297.8 133.9L293 135.3L289.9 139.2L286.3 142.3L284.1 146.3L280.8 147.7L278.7 145.8L274.6 144.6L273 141.6L271.7 138.1L271.4 134.6L270.6 131.7L272.1 129L277.4 126.7L278.4 124.5L272.9 123.9L273.4 122L273.4 119.2L273.9 116L272.3 113.6L269.6 112L261.9 112L257.8 111.4L255.9 110L258.5 108.8L255.1 107.6Z"/>
<path d="M200.2 250.9L199.6 255.1L200.4 256.3L203.8 254.6L206.9 254.8L207.5 253.5L204.5 251.9L203 250.6Z"/>
<path d="M210.2 254L213.6 254.3L213.2 255.3L210 255.5Z"/>
<path d="M187.1 236.3L186.6 239.1L188.1 239.3L188.6 236.7ZM189.6 231.8L188.8 233.1L189.9 234.8L190.8 233.1ZM186.2 232.4L186.1 233.3L188.4 233.3L188.9 232.4ZM191.6 235.9L190.9 238L192.1 238L191.9 235.9ZM195.7 247.2L197.5 248.1L198 246.8L195.7 247Z"/>
<path d="M222 259.5L223.3 259.5L222.6 260.7ZM223 263.6L223.8 264L223.4 264.8ZM226.3 267.6L226.8 267.9L226.5 268.3ZM215.4 254.3L216.1 254.3L215.7 254.7Z"/>
<path d="M177.7 311.3L177.5 313.9L179.6 315.5L182.2 314.4L182.5 311.3L186.2 309.2L188.4 306.3L189.1 302.7L192.8 305.8L194.7 308.7L201.2 309.5L199.9 312.3L201.6 313.4L194.9 316L192.6 321.7L195.3 326.2L197 328.5L200.6 327.2L200.8 331.2L203.1 331L205.4 335.1L205.1 340.3L204.5 343.2L205.8 345.3L204.4 347.6L202.9 350.4L200.1 347.9L195.3 345L191.1 342.4L188.3 338.7L185.9 333.8L183.2 328.5L181.1 323.8L178.9 320.4L175.8 318.1L175.5 314.2Z"/>
<path d="M203.1 331L205.7 331.2L209.9 328.3L212.9 328L212.9 333L215.3 334.8L219.1 336.4L221.4 337.7L224.5 338.5L225.1 341.6L225.6 345L229.7 345L230.2 347.6L232.2 350L231.7 352.3L230.9 354.2L228.8 352.9L222.9 353.6L221.8 356L221.3 360.4L218.3 359.9L217.9 362L215.6 360.2L213.1 359.4L211.5 361.8L209.7 362L208.7 358.6L207 355.7L207.7 353.1L206.2 352.1L204.7 348.2L205.8 345.3L204.5 343.2L205.1 340.3L205.4 335.1Z"/>
<path d="M202.9 350.4L204.7 348.2L206.2 352.1L207.7 353.1L207 355.7L208.7 358.6L209.7 362L211.5 361.8L211.4 365.1L209.1 366.5L209.4 371.7L207.8 376.9L208 381.9L207.5 384.8L209.6 389.5L210.6 392.1L209.7 394.7L209.4 397.8L210.2 401.7L211.2 403.8L210.1 405.9L211.8 412.1L213.5 416.8L215.2 419.4L215.2 421.1L216.1 424.2L215.6 426.8L216.8 429.3L215.2 431.4L217.3 434.6L219.1 435.1L220.8 437.7L225.9 438.2L228.2 438.4L228.1 439.2L230.6 444.9L233.8 445.1L234.5 445.9L232.4 446.9L228.3 445.9L223.6 443.9L220.4 442.4L216.4 439.7L213.7 436.4L210.4 430.1L208.2 425L209.1 421.9L208.3 417.3L207 411.6L206 406.7L204.5 399.7L205.2 395.7L205.8 389.2L204.7 382.1L203.9 378L204.7 374.6L205 369.1L204.3 363.8L204.4 358.4L203.8 354.2Z"/>
<path d="M211.5 361.8L213.1 359.4L215.6 360.2L217.9 362L218.3 359.9L221.3 360.4L225.6 364.6L227.9 365.1L230.8 367.2L233.4 368.3L233.7 369.3L232 373.3L236.8 374L238.3 374L240.3 371.9L240.5 369.3L242.7 370.9L242.7 373.5L238.9 376.4L235.4 381.4L234.8 385.8L235.5 388.7L235.1 391.3L238.6 394.7L238.9 397.3L240.5 398.9L239.1 402.3L235.6 403.8L230.1 404.1L230.8 408.5L228 410.1L225 409L226.2 412.4L229.7 414.2L227 414.5L227.2 418.6L224.2 421.4L224.2 423.2L228.6 425.5L229.1 427.5L226.8 430.1L225.2 433.4L226.3 436.7L228.2 438.4L225.9 438.2L220.8 437.7L219.1 435.1L217.3 434.6L215.2 431.4L216.8 429.3L215.6 426.8L216.1 424.2L215.2 421.1L215.2 419.4L213.5 416.8L211.8 412.1L210.1 405.9L211.2 403.8L210.2 401.7L209.4 397.8L209.7 394.7L210.6 392.1L209.6 389.5L207.5 384.8L208 381.9L207.8 376.9L209.4 371.7L209.1 366.5L211.4 365.1ZM228.1 439.2L231.6 442.4L236.8 444.1L236.7 445.1L233.8 445.1L230.6 444.9Z"/>
<path d="M243.7 291.2L244.9 291.9L247.6 297.7L247.5 300.3L244.5 304L251 302.9L251.2 305.8L254.5 304.2L260 307.1L260.5 309.5L264.2 309.2L267.7 310L270.9 310L274.2 312.1L277.2 314.9L281.1 315.7L282.6 319.9L282.9 322.3L282 326.5L279.1 329.9L277.4 332.5L275.2 335.9L273.7 338.5L273.9 343.7L274 348.7L272.7 351L272.7 353.9L270.6 357.3L270.3 359.9L268.2 362.3L265.5 362.5L262.2 363.3L258.7 365.1L255.4 367.8L254 370.4L254.5 374.3L254.3 377.2L252.4 379.3L251 383.5L248.3 386.6L246.1 390.5L245.7 387.9L242.5 384.8L239.4 383.2L236.9 381.1L235.4 381.4L238.9 376.4L242.7 373.5L242.7 370.9L240.5 369.3L240.5 365.1L238.2 365.1L237.2 361L235.3 360.4L231.9 360.2L231.8 356.5L230.9 354.2L231.7 352.3L232.2 350L230.2 347.6L229.7 345L225.6 345L225.1 341.6L224.5 338.5L221.4 337.7L219.1 336.4L215.3 334.8L212.9 333L212.9 328L209.9 328.3L205.7 331.2L203.1 331L200.8 331.2L200.6 327.2L197 328.5L195.3 326.2L192.6 321.7L194.9 316L201.6 313.4L202.7 305.5L201.3 302.9L202.7 300.8L201.6 299.5L201.8 298L208.3 299.3L208.5 299.3L211.7 300L215 298.2L216.6 296.4L214.6 294.6L214.9 291.7L217.9 292.2L220.4 291.4L223 288.8L224.4 290.6L225.7 292.2L224.5 295.3L225.4 297.7L229.1 298.5L232.6 297.4L233.9 297.2L237.2 296.4L241.3 296.1ZM246.4 302.7L249.1 302.4L251 303.2L250.1 305.5L246.9 306.3L245.7 304.2Z"/>
<path d="M351.6 172.1L352.6 172.2L356 171.4L359.4 170.7L363.4 170.2L365.8 169.2L364.8 168.4L366.3 165.6L363.4 164.6L363.6 163.1L362.6 161.4L360.1 159.7L359.2 157.7L356.9 157.2L359 155.3L359.6 153.5L356.4 153.1L355.1 153.5L357.2 150.9L353.7 150.9L352.1 153.3L352.3 156L351.2 155.5L352.4 158.4L353.8 158.4L353.3 160.2L356.2 159.9L356.6 162.2L357.3 163.4L354.4 163.9L354.2 165.1L354.9 166.4L352.7 167.6L356.1 168.6L357 168.9L354.4 169.7ZM347.3 160.9L348.9 159.4L351.4 159.2L352.4 160.7L351.1 161.9L348.8 161.7Z"/>
<path d="M351.1 161.9L350.9 163.9L351 166.4L348.2 167.1L344.2 168.4L342.7 166.9L344.3 165.4L343.7 163.6L343.6 161.7L346.5 161.2L346.4 159.7L348.8 158.9L348.9 159.4L347.3 160.9L348.8 161.7Z"/>
<path d="M359.2 189.1L360.5 186L360.7 183.4L358.5 179.6L354 177.8L353.5 176.2L356.9 175.2L359.8 175.5L359.4 172.9L361 173.7L363.4 173.4L366 171.7L366.2 169.9L368.1 169.4L369.4 170.4L371.4 171.7L372.6 172.2L374.7 173.4L375.9 173.4L379.6 174.7L378.5 178.3L377.3 178.5L375.5 180.8L375.3 181.9L377.4 182.6L377.1 184.7L377.6 187L378.6 188L376.6 189.8L373.4 189.1L371.4 188.8L369.5 190.1L369.7 191.6L367.2 191.6L364.5 190.6L362 190.6ZM381.1 191.6L382.7 190.1L383 192.7L382.4 194.2L381.1 192.9Z"/>
<path d="M359.2 189.1L355.7 188.8L351.5 188.5L346.3 188.3L343.7 189.8L344.2 192.9L345.7 192.4L349.1 192.9L349.9 193.7L348.4 195.3L348.1 198.6L347 198.9L348 202.5L347 205.1L349.2 206.2L350.9 208.3L353.5 206.5L358.2 206.5L361.5 204.1L363.2 201.2L362.4 199.2L364.9 195.3L367.6 194.2L369.7 192.9L369.7 191.6L367.2 191.6L364.5 190.6L362 190.6Z"/>
<path d="M344.2 192.9L344.5 196.6L342.9 201L344.1 202L344 204.6L343.6 205.7L347 205.1L348 202.5L347 198.9L348.1 198.6L348.4 195.3L349.9 193.7L349.1 192.9L345.7 192.4Z"/>
<path d="M369.7 168.6L371.9 166.6L372.4 164.6L374.7 163.4L377.1 163.9L376.8 166.1L374.9 167.6L375 170.2L374.4 170.2L372.9 168.6L371.3 168.6Z"/>
<path d="M375.3 181.9L377.4 182.6L380.3 182.4L381.5 182.9L384.3 181.1L384.5 180.1L382.4 179.6L382.6 178.5L380.3 178L378.5 178.3L377.3 178.5L375.5 180.8Z"/>
<path d="M406.1 198.6L407.5 196L409.2 195.5L411.4 194.5L416.3 194.5L418.7 193.5L418.1 195.5L414.9 195.5L413.6 197.3L411.4 196.8L411.9 199.4L414.3 202.5L414.7 203.8L412.5 203.3L413 204.9L412.3 207L411 206.7L409.9 206.2L408.8 203.8L409.8 202.3L407.5 200.7ZM414.1 209.6L416.3 209.8L420.2 210.4L417.5 211.2L414.3 210.4ZM412.9 200.7L415.4 202.8L414.7 201.5ZM423.2 207.5L424.1 207.5L423.3 208.5ZM418.5 199.7L419.6 199.9L419 200.5Z"/>
<path d="M433.3 210.9L434.7 210L437.9 209.2L437 211L435 211.9Z"/>
<path d="M441.5 208.5L442.3 206.2L446.7 206.5L451 205.4L454.5 205.4L452.4 207L452.5 212.5L448 215.1L444 217.9L441.9 216.9L441 215.5L442.9 213L442.4 211.9L441.5 211.8L441 209.6Z"/>
<path d="M440 215.9L441 215.5L442.9 213L442.4 211.9L441.5 211.8L440.6 213.8Z"/>
<path d="M458.5 198.6L457.2 199.7L458.6 203.1L459.6 205.1L461.7 208.3L463.5 210.4L462.3 212.2L463.9 215.9L468 218.7L468.4 221.3L470.8 224.2L473.8 223.4L476 226.6L477.9 229.5L481.6 232.6L485.7 232.9L488.9 231.5L490.5 232.3L491.3 234.7L495 235.7L501.4 236.5L501.5 233.6L504.5 231.3L503 228.4L498.1 224.4L499.7 221.9L497.4 220L495.9 215.6L496 211.9L495.9 209.3L495.2 207L490.7 204.4L485.8 202.5L482.3 203.1L479.4 204.8L479.2 204.9L475.4 206.5L471.8 204.6L468.5 204.1L467.9 202L465.7 200.7L466.1 199.4L463.4 199.7L462.5 200.7L461.7 200.7L460.3 200.5Z"/>
<path d="M619.8 361.2L621.3 359.4L624.6 357.3L628.1 356.3L632.9 354.7L637.7 353.6L641.3 350L641.5 347.4L644.6 347.9L644.8 345.5L648.6 342.9L651.4 339.5L653.8 338.7L656.4 341.4L659.4 341.4L659.7 337.7L662.6 334.8L665.8 334.3L667.5 332.2L672.7 334L676.8 334.3L674.6 337.2L672.9 341.4L675.8 344L679.9 346.6L683 348.4L685.3 344.8L687.2 340.3L687.8 335.1L689.7 330.9L690.9 331.7L691.8 338.5L693.7 339.5L695.2 341.6L695 345.5L695.4 351.3L698.4 354.2L700.7 356L701.2 360.7L703.1 363.1L705.9 367.2L706.5 370.4L705.2 376.1L701.7 382.1L698.6 386.6L694 390.8L688.9 396L686.5 399.7L682 401.2L676.2 404.3L674.1 402.8L671.8 403L668.7 402.8L665.2 401.7L664.7 398.9L664.9 395.5L663.2 395.5L664.8 393.4L665.1 389.2L662.8 390.5L662.7 394.2L660.7 394.7L659.2 393.1L658.8 390.8L657.7 388.2L654.8 386.1L652.2 384.8L647.4 385.3L640.2 386.9L635.1 388.7L633.1 391L629.3 391L625.1 391.3L619.8 394.2L615.8 393.4L614.1 392.1L617.3 387.4L618 382.1L617.9 375.1L617 370.4L618.9 371.2L618.4 365.9ZM669.9 408.8L673 409.8L677.2 409.3L675.3 412.1L672.4 415.2L669.4 416.3L667.9 416L668.3 412.9ZM659.6 396L661.9 395.7L662.3 396.3L660 396.5ZM662.2 332.2L664.5 331.9L663.7 333.3L662.3 333ZM675.6 338.5L676.7 339L675.7 339.5Z"/>
<path d="M739.9 392.3L740.3 393.9L742.2 394.7L740.7 398.6L742.8 398.3L742 400.7L744.7 401.5L747.2 401L743.4 404.6L740.9 405.4L739 407.7L733 411.1L732.3 410.3L735.1 407.7L734.2 405.1L738.3 402L740.1 397.8L739.3 395.2ZM729.9 408.2L731.5 410.1L730.1 411.6L724.3 415.7L723.2 417L719 418.1L714.6 422.2L710 424L707.4 423.5L705.8 422.2L713.2 417.5L720.1 414.7L724.6 411.6L728 409ZM705.7 424.7L707.1 424.7L705.9 425.8Z"/>
</g>
<g fill="url(#nd)" stroke="#999">
<path d="M405.2 191.1L405.3 189.6L406.1 189.6L408.3 190.3L408.4 192L406.4 192.9Z"/>
</g>
<g fill="#feb24c">
<path d="M422.9 379.8L425.3 377.4L428.1 378.7L428 380.8L425.4 382.4L423.5 381.4Z"/>
<path d="M432.5 370.4L434.6 369.9L434.8 372.5L432.9 373.8L431.9 372.5Z"/>
<path d="M431.3 306.1L433.4 305L434.1 308.4L432 309.5L429.9 309.5Z"/>
<path d="M429.9 309.5L432 309.5L434.1 308.4L433.4 311.3L430.8 313.9L430.4 311Z"/>
<path d="M626.2 290.4L627.6 289.6L628.9 289.3L628.8 291.2L627.2 291.7Z"/>
</g>
<g fill="#fd8d3c">
<path d="M374.7 173.4L375.2 171.9L375.8 172.7L375.9 173.4Z"/>
<path d="M324.5 268.1L324.5 266.8L328.6 266.3L331.4 267.1L331.4 267.9L328.6 267.6Z"/>
</g>
<g fill="#bd0026">
<path d="M439.9 217.9L441.2 217.7L441.3 220L440 220.3Z"/>
</g>
</g>
<!-- legend -->
<g>
<text class="leg" x="239.3" y="494.3" text-anchor="middle" textLength="45.6" lengthAdjust="spacingAndGlyphs">No data</text>
<line x1="239.5" y1="498.5" x2="239.5" y2="501.5" stroke="#8a8a8a" stroke-width="1"/>
<rect x="215.5" y="501.5" width="47.5" height="11" fill="url(#hatch)" stroke="#bbb" stroke-width=".7"/>
<path d="M283 507L288 501.5H341.5V512.5H288Z" fill="#ffffb2"/>
<rect x="341.5" y="501.5" width="58.5" height="11" fill="#fed976"/>
<rect x="400" y="501.5" width="58.5" height="11" fill="#feb24c"/>
<rect x="458.5" y="501.5" width="58.5" height="11" fill="#fd8d3c"/>
<rect x="517" y="501.5" width="58.5" height="11" fill="#f03b20"/>
<path d="M575.5 501.5H629L634 507L629 512.5H575.5Z" fill="#bd0026"/>
<path d="M283 507L288 501.5H629L634 507L629 512.5H288Z" fill="none" stroke="#999" stroke-width=".5"/>
<g stroke="#666" stroke-width=".6">
<line x1="341.5" y1="498" x2="341.5" y2="512.5"/><line x1="400" y1="498" x2="400" y2="512.5"/><line x1="458.5" y1="498" x2="458.5" y2="512.5"/><line x1="517" y1="498" x2="517" y2="512.5"/><line x1="575.5" y1="498" x2="575.5" y2="512.5"/>
</g>
<text class="leg" x="342" y="494.3" text-anchor="middle" textLength="25.2" lengthAdjust="spacingAndGlyphs">10%</text>
<text class="leg" x="400.5" y="494.3" text-anchor="middle" textLength="25.2" lengthAdjust="spacingAndGlyphs">12%</text>
<text class="leg" x="459" y="494.3" text-anchor="middle" textLength="25.2" lengthAdjust="spacingAndGlyphs">14%</text>
<text class="leg" x="517.5" y="494.3" text-anchor="middle" textLength="25.2" lengthAdjust="spacingAndGlyphs">16%</text>
<text class="leg" x="576" y="494.3" text-anchor="middle" textLength="25.2" lengthAdjust="spacingAndGlyphs">18%</text>
</g>
<!-- footer -->
<text class="foot b" x="17" y="545" textLength="72" lengthAdjust="spacingAndGlyphs">Data source:</text>
<text class="foot" x="91.8" y="545" textLength="224.2" lengthAdjust="spacingAndGlyphs">IHME, Global Burden of Disease (2025)</text>
<text class="foot" x="831.5" y="545" text-anchor="end" textLength="248.5" lengthAdjust="spacingAndGlyphs">OurWorldinData.org/mental-health | CC BY</text>
<text class="foot b" x="17" y="565" textLength="31.5" lengthAdjust="spacingAndGlyphs">Note:</text>
<text class="foot" x="52.3" y="565" textLength="707.7" lengthAdjust="spacingAndGlyphs">Due to the widespread underdiagnosis, these estimates use a combination of sources, including medical and national records,</text>
<text class="foot" x="17" y="580.5" textLength="357" lengthAdjust="spacingAndGlyphs">epidemiological data, survey data, and meta-regression models.</text>
</svg>
</body>
</html>
